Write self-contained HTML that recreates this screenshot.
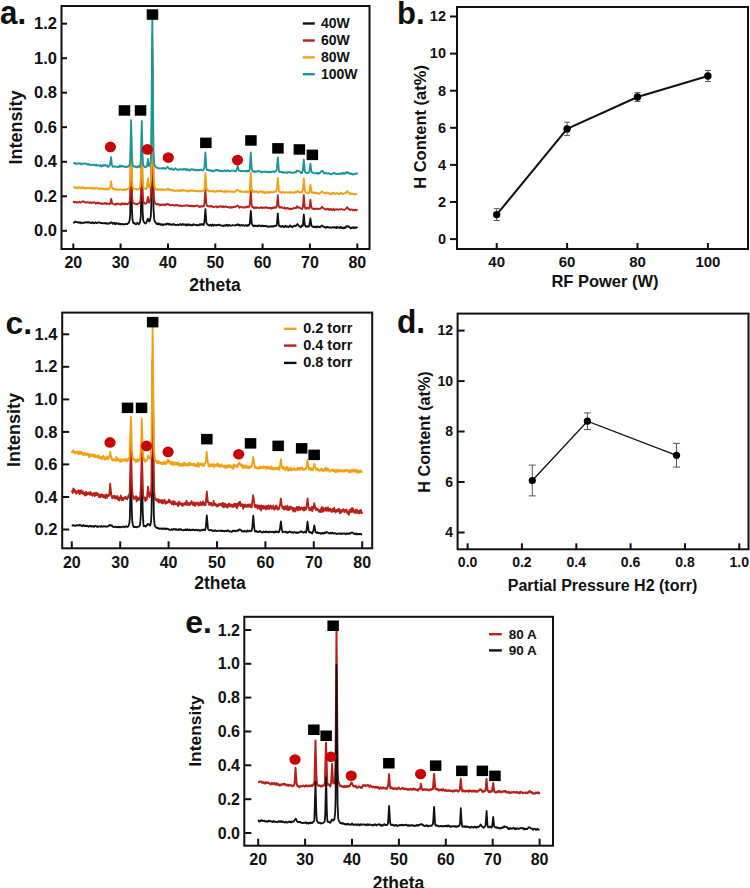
<!DOCTYPE html><html><head><meta charset="utf-8"><style>html,body{margin:0;padding:0;background:#fff;}svg{display:block;}text{font-family:"Liberation Sans",sans-serif;font-weight:bold;}</style></head><body>
<svg width="750" height="888" viewBox="0 0 750 888">
<rect width="750" height="888" fill="#fff"/>
<path d="M73.3,222.0 74.2,222.7 75.3,221.5 76.4,222.2 77.7,222.2 77.9,222.6 78.6,222.2 79.4,222.8 80.1,222.2 81.2,223.3 81.9,222.6 83.4,223.0 83.8,222.5 84.4,222.3 84.8,222.8 85.6,222.2 87.7,222.7 88.0,222.0 88.5,222.6 89.4,222.1 90.8,223.2 92.3,222.2 93.4,223.4 93.8,222.8 94.1,223.1 94.3,222.8 94.9,223.0 95.5,222.2 96.6,223.2 98.2,222.5 98.4,222.1 98.6,222.5 99.2,222.3 100.4,223.1 101.5,222.8 103.6,223.4 104.6,222.9 105.0,223.5 105.9,223.4 106.1,222.9 107.2,223.9 107.3,223.5 108.1,223.3 108.4,223.7 109.5,223.1 110.0,223.5 111.1,222.2 111.3,222.6 111.6,222.4 112.7,223.7 113.1,223.1 113.4,223.5 114.0,223.0 114.3,223.3 114.6,222.7 115.0,224.1 115.3,223.8 115.5,224.2 116.1,223.1 116.3,223.4 116.7,223.1 117.7,223.8 118.3,223.4 118.8,224.0 119.2,223.6 119.7,224.0 119.9,223.6 120.3,224.4 120.7,223.9 121.1,224.2 121.6,223.9 122.0,224.3 122.2,223.9 122.5,224.4 123.8,224.1 124.5,224.6 125.5,224.0 127.2,224.2 128.4,222.8 128.9,222.8 129.7,220.1 130.2,214.8 131.1,167.1 131.9,208.3 132.5,219.7 133.0,222.4 133.6,223.3 134.0,222.8 134.6,222.9 135.1,223.9 136.1,224.4 137.1,222.9 137.6,223.0 139.0,224.2 140.2,221.5 140.8,216.1 141.8,166.8 142.6,210.3 143.1,219.8 143.8,222.1 145.4,223.6 146.2,222.8 147.7,219.0 148.2,219.0 149.0,221.4 149.7,221.3 150.8,216.5 151.3,205.0 152.3,68.5 153.5,209.4 154.3,219.9 154.8,221.5 156.9,224.1 157.4,223.6 157.6,224.2 158.0,223.4 158.4,224.2 158.7,223.9 159.1,224.4 159.6,223.8 160.8,224.7 161.5,224.1 162.1,224.3 162.6,225.3 163.4,224.4 164.1,224.7 164.8,224.5 165.1,224.0 166.2,224.6 167.1,223.5 167.6,223.8 167.8,223.5 168.1,224.3 168.8,224.5 169.3,223.7 170.3,224.8 170.9,224.3 171.8,224.7 172.1,224.2 172.4,224.8 173.0,224.8 173.5,224.1 174.0,224.0 174.7,224.9 175.6,224.9 176.1,225.3 177.6,224.5 178.7,225.2 180.4,223.9 181.6,225.1 182.3,224.2 182.8,224.2 183.1,224.6 183.7,224.2 184.0,224.8 185.0,224.3 185.6,225.3 185.8,225.1 186.1,225.5 187.2,224.1 188.0,225.2 188.7,224.5 189.2,224.9 189.4,224.4 189.9,224.9 190.2,224.7 190.5,225.3 191.0,224.9 191.4,225.4 191.7,225.1 192.3,225.4 192.6,224.7 193.0,225.0 193.3,224.3 193.6,224.8 194.1,224.4 195.9,225.3 196.6,224.6 197.6,225.4 198.6,225.0 198.9,225.4 199.7,224.8 200.0,224.0 200.6,224.8 201.7,224.0 201.9,224.6 203.0,224.4 203.6,225.1 204.4,222.2 205.4,209.2 206.4,222.7 206.9,224.0 207.4,224.1 207.6,224.7 207.8,224.4 208.5,225.2 208.7,224.9 208.8,225.2 209.5,225.1 209.7,225.7 210.7,224.7 211.6,225.8 212.4,224.5 213.4,225.7 214.5,224.6 215.2,225.3 215.9,225.4 216.2,225.0 216.4,225.5 217.0,225.2 217.3,225.4 217.8,224.8 218.5,225.0 219.3,224.5 220.0,225.3 221.8,225.5 223.1,226.2 224.1,225.2 224.7,225.7 224.9,225.3 225.9,225.6 226.7,224.6 227.7,225.8 228.0,225.4 228.4,225.6 228.7,225.0 229.0,225.4 229.5,225.0 230.3,225.6 231.9,225.7 232.5,225.0 234.9,225.7 235.9,224.9 236.7,225.0 237.6,224.2 239.0,225.5 239.4,224.8 239.7,225.4 240.3,225.6 241.8,224.9 242.5,225.5 243.4,225.1 244.3,225.9 245.8,225.1 247.1,226.0 247.9,225.0 248.9,225.6 249.8,223.2 250.8,211.0 251.8,223.7 252.5,225.2 253.6,226.3 254.8,225.4 255.4,226.1 256.0,225.6 257.1,226.3 257.6,225.9 257.9,226.4 258.2,225.4 258.6,225.3 259.7,225.9 260.2,225.6 260.8,226.3 262.0,225.5 263.0,226.3 263.9,225.7 264.7,226.1 265.7,225.8 265.9,226.2 266.4,225.9 267.3,226.7 267.6,226.4 268.7,226.9 268.9,226.5 269.8,226.3 270.9,226.6 271.2,226.1 272.1,226.6 272.5,226.1 273.5,226.6 274.3,225.7 274.8,226.1 275.8,225.9 276.5,225.4 276.9,223.7 277.8,213.4 278.8,225.5 279.7,226.3 279.8,225.9 280.3,226.5 280.7,226.1 281.5,226.8 282.5,225.8 283.6,227.0 283.8,226.6 284.5,227.0 285.5,225.6 286.3,226.9 286.7,226.4 287.4,226.3 288.2,227.2 289.3,226.5 289.6,225.8 290.1,226.1 290.3,225.5 290.6,226.5 291.1,226.2 291.3,226.6 291.4,226.4 292.4,227.4 293.1,226.2 294.0,226.3 294.4,225.7 295.2,225.6 295.7,226.2 297.5,224.0 299.0,226.1 300.8,227.3 301.8,225.5 302.6,226.0 302.9,225.4 303.8,214.4 304.7,224.7 305.9,226.9 306.4,226.9 306.8,226.2 307.1,226.5 307.7,226.2 308.1,226.8 309.3,226.0 310.4,218.4 311.5,225.8 312.7,226.7 313.1,226.6 313.3,227.0 313.6,226.7 314.1,227.1 314.4,226.7 315.4,227.0 315.7,226.5 316.8,227.5 317.5,226.3 318.9,226.8 319.2,227.3 319.5,227.0 320.2,227.1 321.8,225.4 322.8,226.5 323.1,226.4 323.6,226.8 324.8,227.0 325.5,227.9 326.2,227.7 326.6,226.9 327.1,227.1 327.3,226.8 327.9,227.4 328.6,227.1 329.2,227.6 330.2,227.3 331.7,227.8 332.1,227.3 332.8,227.1 333.8,227.7 334.3,227.2 334.9,227.6 335.2,227.2 335.9,228.0 336.1,227.7 336.4,228.0 336.9,226.8 337.8,227.7 338.0,227.3 338.8,227.1 339.0,227.8 339.4,227.6 339.9,228.1 340.9,226.8 341.9,228.0 342.3,228.2 342.7,227.8 343.1,228.2 343.4,227.7 343.7,228.2 344.1,227.4 344.4,228.0 344.7,227.5 345.3,228.0 346.3,226.3 347.1,226.7 347.6,226.1 347.8,226.5 348.0,226.2 348.6,226.9 348.9,226.6 349.6,227.2 350.7,228.5 351.9,227.4 352.2,227.7 352.6,227.2 352.9,227.6 353.2,227.3 353.6,228.1 354.1,227.4 354.4,227.8 354.6,227.4 355.1,227.9 355.5,227.6 355.7,228.0 356.7,227.1 357.3,228.0" fill="none" stroke="#111111" stroke-width="1.8" stroke-linejoin="round"/>
<path d="M73.3,201.1 74.2,202.5 75.6,201.8 75.9,202.2 76.4,202.1 76.8,202.7 77.0,202.1 78.5,202.5 78.8,202.1 79.2,202.3 79.5,201.8 80.5,202.6 81.2,202.4 82.9,201.1 85.6,202.6 85.9,202.3 86.2,202.6 86.9,202.6 87.4,202.1 87.6,202.4 87.8,202.0 89.3,203.0 89.8,202.4 90.1,202.7 90.4,202.1 91.9,203.2 92.8,202.4 93.5,202.7 93.9,202.1 94.3,202.5 94.7,202.4 95.7,203.7 96.6,202.9 96.9,203.1 97.1,202.8 97.4,203.4 98.0,202.6 98.3,202.9 98.5,202.6 98.8,203.4 99.8,202.8 100.8,203.7 101.0,203.5 101.5,204.0 101.8,203.7 102.1,204.1 102.5,203.4 103.4,203.4 103.8,203.9 104.3,203.2 104.3,203.6 104.6,203.1 105.1,203.6 105.4,203.0 106.3,204.2 107.0,203.3 107.8,203.8 108.2,203.6 109.7,204.1 110.2,203.6 111.2,198.8 112.2,203.7 113.3,203.6 114.9,204.8 115.4,204.3 115.7,204.5 116.4,203.6 117.1,204.3 118.2,203.5 119.4,204.4 119.7,204.2 120.3,204.6 120.6,204.2 120.7,204.7 121.5,204.4 121.8,203.3 122.0,203.8 122.4,203.4 122.8,204.2 123.5,203.5 123.8,203.8 124.1,203.5 124.5,204.2 124.9,203.9 125.3,204.0 125.5,203.5 125.7,204.0 127.0,203.8 127.5,204.3 128.2,203.6 128.8,203.7 129.7,201.3 130.2,194.9 131.1,147.4 132.0,192.7 132.3,198.8 132.8,202.4 133.2,203.1 134.1,203.2 134.5,203.9 135.5,203.6 137.1,204.5 137.8,203.7 138.8,203.4 139.2,203.0 139.6,203.1 140.4,201.2 141.0,191.5 141.7,148.3 142.6,190.8 143.2,200.9 144.2,203.3 144.8,203.1 145.6,203.8 146.8,203.1 147.9,196.9 148.7,202.1 149.2,202.6 149.6,202.1 150.7,197.8 151.3,185.0 152.3,49.6 153.4,186.2 154.1,200.1 155.0,203.0 155.8,204.0 156.6,204.2 156.8,204.7 157.1,204.1 157.5,204.4 157.8,204.0 158.2,204.5 158.4,204.0 159.7,205.2 160.5,204.5 160.9,204.4 161.4,205.2 161.8,204.6 162.9,204.9 163.4,204.3 164.9,205.4 165.1,204.7 166.0,204.1 166.6,204.7 167.7,203.6 168.5,204.7 169.0,204.5 169.3,204.9 169.8,204.5 169.9,205.1 170.2,204.9 170.8,205.5 172.5,204.9 173.5,205.3 173.6,205.1 174.7,205.8 176.1,204.6 176.7,205.5 177.7,205.0 179.1,206.0 179.2,205.6 179.5,205.9 180.2,205.5 180.3,205.9 180.5,205.4 182.2,206.4 183.1,205.6 183.9,205.9 184.7,205.5 185.6,205.9 186.5,205.1 188.2,206.0 188.7,205.3 189.4,205.5 189.7,206.2 190.8,205.5 191.3,206.3 192.3,205.6 193.3,206.6 193.8,206.0 194.2,206.3 194.6,205.9 195.7,206.1 197.0,205.3 199.0,206.8 199.6,206.5 200.1,207.0 201.4,206.1 201.6,206.4 202.2,206.1 202.4,206.5 202.6,206.1 203.2,206.6 203.9,206.1 204.3,204.7 205.4,189.1 206.2,202.8 206.9,205.4 207.7,206.2 208.5,206.0 209.2,206.6 210.0,205.9 210.8,206.7 211.8,205.8 212.4,206.9 213.5,206.8 213.8,207.3 216.0,206.2 217.1,207.5 218.5,206.5 219.3,206.9 219.7,206.4 220.5,206.6 221.0,206.2 222.0,207.1 222.6,206.1 223.1,206.2 223.2,206.8 223.6,206.6 224.0,207.2 225.5,206.2 226.6,207.0 227.9,206.8 228.5,207.4 228.8,207.2 229.5,207.9 230.1,207.1 230.3,207.3 230.6,207.0 231.2,207.7 231.4,207.2 232.1,207.6 232.9,206.8 233.9,207.3 234.6,206.4 235.3,206.9 237.4,205.4 237.7,205.9 238.4,206.0 239.4,207.8 241.4,206.6 242.8,207.7 243.7,207.2 244.4,207.5 244.6,207.1 245.4,207.1 245.6,207.6 246.9,206.4 247.4,206.4 247.7,207.1 248.5,206.9 248.7,206.3 249.4,206.7 249.9,203.7 250.8,190.7 251.7,205.0 252.3,207.0 253.3,206.9 254.1,208.3 255.1,207.3 256.2,208.2 257.1,207.2 257.4,207.7 259.1,208.1 260.2,207.4 260.4,207.8 260.7,207.4 261.1,207.7 261.5,207.2 262.4,208.0 263.1,207.5 264.6,207.8 265.0,207.5 265.3,207.8 265.9,207.1 267.0,207.9 267.4,207.4 268.5,208.3 268.8,207.7 269.5,207.9 269.8,208.3 270.4,207.8 271.2,208.1 271.4,208.8 272.5,207.6 272.7,208.0 273.0,207.7 273.5,208.1 274.3,207.1 274.7,207.9 275.8,207.1 276.3,207.6 277.0,204.6 277.8,195.2 278.6,205.3 279.3,207.5 279.9,207.8 280.8,207.0 281.2,207.4 282.1,207.4 282.7,208.0 284.1,208.2 284.5,207.4 285.4,208.8 286.3,208.1 286.8,208.6 286.9,208.0 287.6,208.1 287.8,207.8 288.0,208.3 289.2,209.1 290.1,208.4 290.8,209.1 291.4,208.7 292.1,209.1 293.5,207.8 294.5,208.3 295.1,208.0 296.1,208.0 297.0,206.1 297.7,207.3 298.4,207.6 299.1,207.2 300.2,208.3 301.1,208.8 301.4,208.3 301.9,209.0 302.6,208.4 302.9,207.1 303.8,194.9 304.8,207.1 305.3,208.5 305.9,208.9 306.9,207.6 307.6,207.7 308.1,208.7 308.5,208.8 309.4,207.8 310.4,199.6 311.4,207.5 312.1,208.5 313.1,208.5 314.0,209.3 315.1,208.6 315.3,209.1 315.5,208.7 316.7,208.9 317.0,208.5 317.9,209.1 318.8,208.6 320.3,208.9 322.1,206.8 322.9,207.9 323.7,208.4 324.1,208.3 325.2,209.6 326.1,209.1 327.6,209.3 327.7,208.7 328.1,208.6 329.0,209.9 329.5,209.3 329.7,209.8 330.1,209.2 330.4,209.5 331.0,208.9 332.0,210.1 332.9,209.8 333.5,208.7 334.5,210.3 334.9,209.7 336.4,209.2 337.0,209.8 337.9,209.4 338.4,209.8 339.2,209.2 340.4,209.5 341.5,209.0 342.8,209.7 343.8,209.6 344.1,210.0 345.5,209.2 347.3,207.1 348.4,209.2 349.4,209.2 350.2,210.1 350.8,209.4 350.9,209.7 352.0,209.5 352.6,210.3 353.5,209.6 354.3,210.3 354.8,210.1 355.3,209.4 356.1,210.4 357.1,210.0 357.3,210.4" fill="none" stroke="#b8201a" stroke-width="1.8" stroke-linejoin="round"/>
<path d="M73.3,187.0 74.1,186.8 75.0,188.1 75.5,187.7 76.3,188.1 77.1,187.3 77.8,188.2 78.7,187.6 78.8,187.9 79.1,187.4 79.2,187.8 79.8,187.2 80.8,188.1 81.3,187.9 81.4,188.2 81.9,187.1 83.0,188.2 83.9,187.4 85.0,188.7 86.1,187.8 86.3,188.1 87.2,188.1 87.4,187.8 90.0,188.2 90.4,187.7 91.5,188.8 91.7,188.3 92.0,188.6 92.3,188.0 93.0,187.8 94.0,188.7 94.6,188.1 95.1,188.5 95.5,188.3 95.6,188.7 96.6,188.0 98.0,188.5 98.2,188.3 99.4,189.3 100.5,188.3 101.6,189.1 102.5,188.3 104.0,189.5 105.2,188.6 106.2,189.6 107.3,188.6 107.6,189.2 107.8,188.9 108.4,189.5 109.1,188.4 109.7,188.6 110.1,188.2 111.1,181.3 111.9,187.3 113.0,189.0 113.5,189.2 114.1,188.6 114.8,188.8 115.0,189.6 115.2,189.3 116.1,189.5 116.3,190.0 117.0,189.3 117.5,189.7 118.5,189.3 119.4,189.9 120.4,189.2 120.9,189.7 122.1,189.6 122.9,190.4 123.8,189.3 124.2,189.8 124.5,189.5 125.1,189.8 126.2,189.2 126.9,189.6 127.4,188.9 128.0,188.9 129.2,188.0 129.9,185.0 130.2,180.2 131.1,132.4 132.1,180.6 132.5,186.0 133.1,188.3 133.7,188.9 134.4,188.4 135.1,189.0 135.8,188.6 136.7,189.5 137.0,189.3 138.0,189.6 139.6,188.1 140.4,185.7 141.0,175.6 141.8,132.9 142.6,175.3 143.2,186.2 144.0,188.5 145.3,188.9 145.7,188.2 146.1,189.0 146.8,188.5 147.8,178.5 148.8,186.7 149.2,187.3 150.1,186.5 150.9,180.8 151.4,164.7 152.3,34.4 153.5,174.1 154.3,185.9 155.1,188.3 156.1,189.6 156.5,189.4 156.9,189.7 157.3,189.1 158.3,190.1 158.6,189.7 159.5,189.4 159.6,189.7 160.4,189.1 161.2,190.0 161.9,189.8 162.5,189.0 163.9,189.9 164.5,189.9 164.9,189.3 166.4,189.8 166.5,189.4 167.0,189.6 168.1,188.4 169.2,190.3 169.9,189.5 170.1,189.9 170.2,189.6 170.9,190.1 171.2,189.9 171.4,190.4 172.7,189.9 173.4,190.9 173.5,190.5 173.7,190.9 174.8,190.4 175.7,191.0 177.2,190.3 177.7,190.8 178.8,190.4 179.3,191.1 179.8,190.2 180.3,190.1 180.9,190.8 181.4,190.3 182.4,190.9 182.8,190.1 183.4,189.9 184.0,190.5 185.0,190.3 186.6,191.3 187.0,190.8 187.2,191.3 187.5,190.8 187.8,191.2 188.2,190.6 188.3,191.1 189.2,191.5 189.8,190.5 191.2,190.9 191.4,190.4 192.2,190.2 193.3,191.1 194.4,190.7 195.4,191.2 196.2,190.6 196.8,191.5 197.3,190.9 197.9,190.9 198.3,191.3 198.4,190.8 199.6,191.3 200.0,191.0 200.5,191.4 201.4,190.9 201.9,191.3 202.6,190.8 203.6,190.8 204.1,190.3 204.5,188.0 205.4,173.0 206.6,189.5 207.3,190.2 207.6,189.7 207.9,189.8 208.8,191.5 210.9,190.9 212.2,191.5 212.4,191.0 213.0,191.3 213.2,191.0 213.4,191.5 214.2,191.3 215.6,191.8 216.0,191.3 216.3,191.6 217.4,190.6 218.6,191.6 219.2,191.4 219.5,190.6 219.8,191.1 220.5,191.2 221.0,190.6 222.0,191.6 222.4,191.3 223.2,191.9 224.2,191.6 224.7,192.2 225.3,190.9 225.8,190.7 226.6,191.9 228.1,191.0 229.0,191.8 230.1,191.5 230.3,191.8 230.8,191.2 231.9,191.9 232.5,191.5 233.8,192.3 234.8,191.9 235.8,190.7 237.9,189.9 239.4,191.5 239.8,191.2 240.1,191.8 241.1,191.1 241.8,191.8 242.5,191.6 243.4,192.2 244.1,192.0 244.4,191.4 244.5,191.8 245.1,191.5 245.4,192.0 245.8,191.6 246.1,192.1 247.1,191.3 248.2,192.5 249.5,191.2 249.7,189.9 250.8,173.0 251.6,187.9 252.9,192.3 253.8,191.1 255.9,192.1 256.4,191.3 256.7,191.7 257.1,191.5 258.1,192.7 259.5,191.5 260.2,191.8 260.8,191.1 261.9,192.0 262.2,191.4 262.5,192.4 263.0,192.7 263.9,191.7 264.4,192.8 265.2,193.3 266.4,191.9 266.9,192.2 267.3,191.9 267.7,192.7 267.9,192.1 268.3,192.5 268.8,192.0 269.5,192.7 269.7,192.2 270.4,192.3 270.5,192.0 270.8,192.3 271.8,191.9 272.8,192.6 273.6,191.5 274.5,191.9 275.0,191.3 276.0,191.8 276.9,189.1 277.8,178.0 279.0,191.2 279.5,192.1 280.2,191.8 281.6,193.0 282.1,192.3 283.4,191.8 284.5,192.8 285.2,192.7 286.1,191.9 287.2,192.6 288.1,192.7 288.6,192.3 288.9,192.6 289.1,192.1 289.4,192.7 290.3,192.9 291.0,192.0 291.4,192.4 291.9,192.1 292.1,192.5 292.6,192.3 293.8,192.8 294.4,192.1 295.3,192.4 296.0,191.4 296.7,192.1 297.7,190.9 299.4,192.7 300.1,192.1 301.1,192.4 301.6,191.8 302.1,192.3 302.9,189.6 303.8,178.5 305.0,191.4 306.4,192.9 307.4,192.5 307.8,193.1 308.4,192.8 308.9,193.2 309.3,192.4 310.4,184.6 311.5,192.4 312.0,192.7 312.6,192.1 313.9,193.4 315.0,192.3 315.7,193.4 316.5,192.8 317.0,193.4 317.9,192.9 318.8,194.0 319.7,193.1 320.0,193.3 320.5,193.0 321.9,191.1 324.0,193.1 325.1,193.1 325.8,193.6 326.8,192.3 327.3,192.9 328.5,193.2 329.0,193.9 330.0,193.1 331.2,194.5 332.4,193.0 332.6,193.3 332.7,193.0 333.6,192.8 334.6,194.0 335.6,193.6 335.8,193.9 336.4,193.2 337.4,193.5 337.7,193.1 339.0,194.4 339.4,193.9 339.9,193.9 340.9,192.5 341.3,193.3 342.8,194.2 343.5,193.6 344.9,193.4 345.4,192.7 345.7,193.0 346.3,192.6 347.3,191.0 349.3,193.7 350.0,193.8 350.4,193.0 351.4,194.1 351.5,193.9 351.8,194.2 352.0,193.7 353.4,193.9 353.5,193.6 354.2,194.5 355.2,193.8 355.9,194.1 357.3,193.7" fill="none" stroke="#f2a012" stroke-width="1.8" stroke-linejoin="round"/>
<path d="M73.3,162.8 74.0,163.1 74.3,162.9 74.4,163.2 74.9,163.0 75.4,163.9 76.4,163.3 76.9,163.8 77.9,163.2 78.7,163.8 80.0,163.1 80.3,163.7 80.7,163.5 81.1,164.4 81.3,163.9 81.6,164.2 82.6,163.6 83.1,163.9 83.7,163.3 84.5,163.3 84.6,163.7 86.1,163.6 86.6,164.2 86.8,163.9 87.0,164.2 87.4,164.1 87.8,164.7 88.8,163.9 89.4,164.8 90.1,165.0 90.4,164.6 91.5,165.1 93.6,164.6 94.5,165.1 94.7,164.6 95.9,165.6 96.6,164.8 97.6,165.5 98.3,165.3 99.1,165.7 100.2,165.0 100.9,166.4 101.2,166.1 101.6,166.5 102.6,165.1 103.0,165.5 103.4,165.3 103.7,166.0 105.0,164.8 105.4,165.5 105.7,165.0 106.6,165.9 107.1,165.4 108.0,167.0 109.3,166.0 110.0,164.5 111.1,157.1 111.9,165.0 112.6,166.6 113.2,166.3 113.7,166.8 114.7,166.3 115.0,166.8 115.4,166.5 117.3,167.1 118.3,166.4 118.5,167.0 119.2,166.9 119.7,165.5 120.1,165.5 120.9,166.7 121.4,166.0 121.6,166.3 122.0,165.9 122.2,166.3 122.7,166.0 123.1,166.6 123.7,166.2 124.7,167.1 125.1,166.7 126.2,167.1 126.8,166.4 127.7,166.9 128.1,166.3 128.5,166.5 129.7,164.6 130.2,159.8 131.1,120.2 132.0,157.5 132.7,165.1 133.6,166.6 134.5,166.1 135.6,167.0 135.7,166.6 136.3,167.3 136.6,166.9 137.2,167.4 138.4,165.9 139.5,167.0 140.4,165.4 141.0,156.6 141.8,121.0 142.6,156.1 143.1,163.7 143.5,165.7 144.6,166.9 145.0,166.7 145.1,167.3 145.8,167.4 146.2,166.7 146.9,166.5 147.9,158.9 148.6,164.9 148.9,165.9 149.2,165.6 149.4,165.9 150.7,161.4 151.3,148.7 152.3,13.2 153.5,152.7 154.3,164.3 154.8,165.6 156.4,167.6 157.5,167.7 158.1,168.5 159.0,168.1 159.4,168.7 161.6,168.2 162.4,168.6 162.8,168.2 163.0,168.5 163.4,167.9 164.1,168.0 165.5,169.0 167.5,166.8 169.4,169.0 170.5,169.4 171.0,168.5 171.2,168.8 171.6,168.4 172.3,169.6 173.3,169.4 173.8,170.0 175.2,168.3 177.3,169.9 178.8,169.2 179.5,169.9 180.7,169.1 182.3,169.8 182.8,169.1 183.2,169.6 183.3,169.1 183.9,169.4 184.2,168.6 185.8,170.0 186.4,169.0 187.1,169.1 187.5,170.3 187.8,169.8 188.1,170.2 188.7,169.5 188.8,169.9 189.4,169.9 190.0,170.5 190.7,169.3 191.2,169.1 191.9,169.6 192.2,169.3 192.7,169.7 193.0,169.4 194.2,170.0 194.4,169.7 194.7,170.1 195.2,169.8 195.4,170.3 196.4,169.7 196.6,170.2 196.9,169.9 197.5,170.4 198.1,170.0 198.4,170.1 198.8,169.6 199.9,170.1 200.8,169.4 201.1,170.1 202.3,170.4 202.5,170.1 202.8,170.5 203.7,169.7 204.4,167.3 205.4,152.4 206.3,167.1 206.6,169.1 207.1,170.2 208.3,169.9 208.5,170.2 208.8,169.8 209.3,170.7 210.3,170.3 210.7,170.9 211.5,170.3 212.3,171.4 213.1,170.6 213.6,171.0 214.8,170.2 215.1,170.8 216.0,169.7 217.1,170.6 217.4,169.9 218.1,170.0 219.0,171.0 219.4,170.5 219.7,170.9 220.0,170.4 220.3,170.8 220.8,170.6 221.0,171.1 221.3,170.9 221.8,171.3 222.0,170.8 223.6,171.3 224.5,170.2 224.9,170.6 225.0,170.3 225.6,171.2 225.9,170.8 226.6,171.0 227.6,170.1 228.4,171.2 229.4,170.7 230.2,171.3 231.8,170.5 232.8,170.8 233.7,170.3 234.7,171.3 235.2,171.0 235.4,171.5 236.2,170.9 236.8,169.7 237.6,166.0 239.0,170.7 239.8,170.6 240.8,171.3 241.9,170.8 242.3,171.2 243.0,170.9 244.5,171.4 245.6,170.9 245.9,171.2 246.4,170.5 247.4,171.6 248.2,170.6 248.7,171.1 249.3,171.0 249.7,169.5 250.8,152.3 251.7,168.2 252.2,170.6 253.1,171.8 253.7,171.1 254.6,172.1 255.0,171.3 255.9,171.9 256.6,171.8 257.2,171.5 257.6,170.8 259.6,171.8 259.8,171.3 260.0,171.7 260.7,171.2 261.8,172.6 262.8,171.6 263.7,171.9 265.6,171.5 266.6,172.3 267.3,171.9 267.5,172.2 268.4,172.1 268.8,171.5 269.8,172.4 270.9,171.7 271.1,172.2 272.2,171.6 273.5,171.4 273.6,171.9 274.2,172.1 275.1,171.1 275.8,171.4 276.3,170.9 276.9,168.4 277.8,157.4 279.0,171.5 279.6,172.0 279.8,171.6 281.6,172.0 282.1,172.8 283.1,171.9 284.1,172.8 285.1,172.2 286.5,172.9 287.1,172.5 287.2,172.8 287.5,172.2 288.3,171.9 289.0,172.5 289.9,172.2 290.1,172.6 290.7,172.1 291.8,172.9 293.3,172.5 293.9,172.9 294.9,172.0 295.9,172.6 296.9,170.5 298.2,171.2 298.4,170.8 300.2,172.0 300.9,173.0 301.4,172.5 302.0,172.9 302.9,169.8 303.8,159.3 304.8,171.4 305.7,172.6 307.4,173.2 308.4,172.6 308.7,172.8 309.4,171.8 310.4,163.6 311.4,171.3 311.8,172.5 312.7,172.8 313.0,172.4 313.1,172.8 314.7,173.4 316.5,172.9 317.4,173.8 318.0,172.7 319.0,173.6 319.6,172.8 320.2,172.8 321.3,171.2 321.5,171.4 322.0,171.0 322.4,171.4 322.9,171.2 324.1,173.5 324.4,172.9 325.4,172.8 326.7,173.6 327.0,173.3 327.5,173.6 328.9,173.2 330.3,174.2 330.9,173.9 331.2,174.2 331.5,173.8 332.1,174.1 333.1,173.2 334.2,173.0 335.1,173.6 335.4,173.4 335.8,174.0 336.2,173.8 336.5,174.1 336.9,173.7 338.2,174.3 339.2,173.6 339.6,174.0 340.3,173.5 340.5,173.8 340.7,173.4 341.0,173.8 341.2,173.4 341.8,173.8 341.9,173.4 342.4,173.7 343.1,172.7 344.1,173.8 344.5,173.4 345.0,173.6 345.6,172.5 346.4,173.2 347.1,172.0 347.5,172.1 348.1,173.1 348.8,172.8 349.0,173.7 349.7,173.8 350.2,173.2 351.2,174.2 351.6,173.6 352.1,173.6 352.6,174.5 353.6,174.0 354.9,174.3 355.6,173.5 356.1,173.7 356.5,173.3 356.8,173.7 357.2,173.4 357.3,173.7" fill="none" stroke="#1b959c" stroke-width="1.8" stroke-linejoin="round"/>
<rect x="61.5" y="6" width="308.0" height="243" fill="none" stroke="#111" stroke-width="2"/>
<line x1="61.5" y1="230.8" x2="67.0" y2="230.8" stroke="#111" stroke-width="2"/>
<text x="57.0" y="236.4" text-anchor="end" font-size="16.5" fill="#111">0.0</text>
<line x1="61.5" y1="196.3" x2="67.0" y2="196.3" stroke="#111" stroke-width="2"/>
<text x="57.0" y="201.9" text-anchor="end" font-size="16.5" fill="#111">0.2</text>
<line x1="61.5" y1="161.8" x2="67.0" y2="161.8" stroke="#111" stroke-width="2"/>
<text x="57.0" y="167.4" text-anchor="end" font-size="16.5" fill="#111">0.4</text>
<line x1="61.5" y1="127.2" x2="67.0" y2="127.2" stroke="#111" stroke-width="2"/>
<text x="57.0" y="132.8" text-anchor="end" font-size="16.5" fill="#111">0.6</text>
<line x1="61.5" y1="92.7" x2="67.0" y2="92.7" stroke="#111" stroke-width="2"/>
<text x="57.0" y="98.3" text-anchor="end" font-size="16.5" fill="#111">0.8</text>
<line x1="61.5" y1="58.2" x2="67.0" y2="58.2" stroke="#111" stroke-width="2"/>
<text x="57.0" y="63.8" text-anchor="end" font-size="16.5" fill="#111">1.0</text>
<line x1="61.5" y1="23.7" x2="67.0" y2="23.7" stroke="#111" stroke-width="2"/>
<text x="57.0" y="29.3" text-anchor="end" font-size="16.5" fill="#111">1.2</text>
<line x1="73.3" y1="249.0" x2="73.3" y2="243.5" stroke="#111" stroke-width="2"/>
<text x="73.3" y="267.7" text-anchor="middle" font-size="16" fill="#111">20</text>
<line x1="120.6" y1="249.0" x2="120.6" y2="243.5" stroke="#111" stroke-width="2"/>
<text x="120.6" y="267.7" text-anchor="middle" font-size="16" fill="#111">30</text>
<line x1="168.0" y1="249.0" x2="168.0" y2="243.5" stroke="#111" stroke-width="2"/>
<text x="168.0" y="267.7" text-anchor="middle" font-size="16" fill="#111">40</text>
<line x1="215.3" y1="249.0" x2="215.3" y2="243.5" stroke="#111" stroke-width="2"/>
<text x="215.3" y="267.7" text-anchor="middle" font-size="16" fill="#111">50</text>
<line x1="262.6" y1="249.0" x2="262.6" y2="243.5" stroke="#111" stroke-width="2"/>
<text x="262.6" y="267.7" text-anchor="middle" font-size="16" fill="#111">60</text>
<line x1="309.9" y1="249.0" x2="309.9" y2="243.5" stroke="#111" stroke-width="2"/>
<text x="309.9" y="267.7" text-anchor="middle" font-size="16" fill="#111">70</text>
<line x1="357.3" y1="249.0" x2="357.3" y2="243.5" stroke="#111" stroke-width="2"/>
<text x="357.3" y="267.7" text-anchor="middle" font-size="16" fill="#111">80</text>
<text transform="translate(21.5,127.5) rotate(-90) scale(1.0,1)" text-anchor="middle" font-size="18" fill="#111">Intensity</text>
<text x="215.0" y="291.0" text-anchor="middle" font-size="17.5" fill="#111">2theta</text>
<text transform="translate(0.0,24.0) scale(0.95,1)" text-anchor="start" font-size="33" fill="#111">a.</text>
<line x1="302.8" y1="23.5" x2="314.8" y2="23.5" stroke="#111111" stroke-width="2.4"/>
<text x="321.0" y="28.3" text-anchor="start" font-size="14" fill="#111">40W</text>
<line x1="302.8" y1="40.5" x2="314.8" y2="40.5" stroke="#b8201a" stroke-width="2.4"/>
<text x="321.0" y="45.3" text-anchor="start" font-size="14" fill="#111">60W</text>
<line x1="302.8" y1="57.4" x2="314.8" y2="57.4" stroke="#f2a012" stroke-width="2.4"/>
<text x="321.0" y="62.2" text-anchor="start" font-size="14" fill="#111">80W</text>
<line x1="302.8" y1="74.2" x2="314.8" y2="74.2" stroke="#1b959c" stroke-width="2.4"/>
<text x="321.0" y="79.0" text-anchor="start" font-size="14" fill="#111">100W</text>
<rect x="118.7" y="105.2" width="11.5" height="10.5" fill="#000"/>
<rect x="134.8" y="105.2" width="11.5" height="10.5" fill="#000"/>
<rect x="146.7" y="9.3" width="11.5" height="10.5" fill="#000"/>
<rect x="200.1" y="137.6" width="11.5" height="10.5" fill="#000"/>
<rect x="245.2" y="135.2" width="11.5" height="10.5" fill="#000"/>
<rect x="272.2" y="143.1" width="11.5" height="10.5" fill="#000"/>
<rect x="293.6" y="144.2" width="11.5" height="10.5" fill="#000"/>
<rect x="306.6" y="149.6" width="11.5" height="10.5" fill="#000"/>
<ellipse cx="110.4" cy="146.9" rx="5.6" ry="5.3" fill="#c80404"/>
<ellipse cx="147.4" cy="149.4" rx="5.6" ry="5.3" fill="#c80404"/>
<ellipse cx="168.3" cy="157.6" rx="5.6" ry="5.3" fill="#c80404"/>
<ellipse cx="237.5" cy="160.1" rx="5.6" ry="5.3" fill="#c80404"/>
<rect x="457" y="7" width="291" height="242" fill="none" stroke="#111" stroke-width="2"/>
<line x1="450.0" y1="239.1" x2="457.0" y2="239.1" stroke="#111" stroke-width="2"/>
<text x="446.0" y="243.9" text-anchor="end" font-size="14.5" fill="#111">0</text>
<line x1="450.0" y1="202.0" x2="457.0" y2="202.0" stroke="#111" stroke-width="2"/>
<text x="446.0" y="206.8" text-anchor="end" font-size="14.5" fill="#111">2</text>
<line x1="450.0" y1="164.9" x2="457.0" y2="164.9" stroke="#111" stroke-width="2"/>
<text x="446.0" y="169.7" text-anchor="end" font-size="14.5" fill="#111">4</text>
<line x1="450.0" y1="127.8" x2="457.0" y2="127.8" stroke="#111" stroke-width="2"/>
<text x="446.0" y="132.6" text-anchor="end" font-size="14.5" fill="#111">6</text>
<line x1="450.0" y1="90.7" x2="457.0" y2="90.7" stroke="#111" stroke-width="2"/>
<text x="446.0" y="95.5" text-anchor="end" font-size="14.5" fill="#111">8</text>
<line x1="450.0" y1="53.6" x2="457.0" y2="53.6" stroke="#111" stroke-width="2"/>
<text x="446.0" y="58.4" text-anchor="end" font-size="14.5" fill="#111">10</text>
<line x1="450.0" y1="16.5" x2="457.0" y2="16.5" stroke="#111" stroke-width="2"/>
<text x="446.0" y="21.3" text-anchor="end" font-size="14.5" fill="#111">12</text>
<line x1="496.7" y1="249.0" x2="496.7" y2="243.0" stroke="#111" stroke-width="2"/>
<text x="496.7" y="266.5" text-anchor="middle" font-size="15" fill="#111">40</text>
<line x1="567.1" y1="249.0" x2="567.1" y2="243.0" stroke="#111" stroke-width="2"/>
<text x="567.1" y="266.5" text-anchor="middle" font-size="15" fill="#111">60</text>
<line x1="637.5" y1="249.0" x2="637.5" y2="243.0" stroke="#111" stroke-width="2"/>
<text x="637.5" y="266.5" text-anchor="middle" font-size="15" fill="#111">80</text>
<line x1="707.9" y1="249.0" x2="707.9" y2="243.0" stroke="#111" stroke-width="2"/>
<text x="707.9" y="266.5" text-anchor="middle" font-size="15" fill="#111">100</text>
<text transform="translate(426.0,127.0) rotate(-90) scale(1.0,1)" text-anchor="middle" font-size="16.5" fill="#111">H Content (at%)</text>
<text x="605.0" y="287.0" text-anchor="middle" font-size="16.5" fill="#111">RF Power (W)</text>
<text x="397.0" y="24.0" text-anchor="start" font-size="31" fill="#111">b.</text>
<polyline points="496.7,214.6 567.1,128.9 637.5,97.0 707.9,76.0" fill="none" stroke="#111" stroke-width="2"/>
<line x1="496.7" y1="208.7" x2="496.7" y2="220.5" stroke="#555" stroke-width="1"/>
<line x1="493.7" y1="208.7" x2="499.7" y2="208.7" stroke="#555" stroke-width="1"/>
<line x1="493.7" y1="220.5" x2="499.7" y2="220.5" stroke="#555" stroke-width="1"/>
<circle cx="496.7" cy="214.6" r="3.7" fill="#000"/>
<line x1="567.1" y1="122.2" x2="567.1" y2="135.6" stroke="#555" stroke-width="1"/>
<line x1="564.1" y1="122.2" x2="570.1" y2="122.2" stroke="#555" stroke-width="1"/>
<line x1="564.1" y1="135.6" x2="570.1" y2="135.6" stroke="#555" stroke-width="1"/>
<circle cx="567.1" cy="128.9" r="3.7" fill="#000"/>
<line x1="637.5" y1="92.6" x2="637.5" y2="101.5" stroke="#555" stroke-width="1"/>
<line x1="634.5" y1="92.6" x2="640.5" y2="92.6" stroke="#555" stroke-width="1"/>
<line x1="634.5" y1="101.5" x2="640.5" y2="101.5" stroke="#555" stroke-width="1"/>
<circle cx="637.5" cy="97.0" r="3.7" fill="#000"/>
<line x1="707.9" y1="70.5" x2="707.9" y2="81.6" stroke="#555" stroke-width="1"/>
<line x1="704.9" y1="70.5" x2="710.9" y2="70.5" stroke="#555" stroke-width="1"/>
<line x1="704.9" y1="81.6" x2="710.9" y2="81.6" stroke="#555" stroke-width="1"/>
<circle cx="707.9" cy="76.0" r="3.7" fill="#000"/>
<path d="M71.8,525.9 72.9,525.1 74.7,525.9 75.5,525.4 75.9,525.8 76.9,525.2 78.4,525.6 79.4,525.0 79.7,525.3 79.9,525.0 80.8,525.2 82.3,526.2 82.5,525.6 82.8,525.9 83.4,525.1 83.6,525.5 83.9,525.1 84.5,526.1 85.1,526.2 85.6,525.7 86.8,526.2 87.2,525.8 88.0,526.3 88.1,526.1 88.4,526.7 88.5,526.3 89.2,526.4 89.4,526.0 89.9,526.3 90.3,525.9 91.5,526.6 92.3,525.9 92.7,526.3 93.2,526.1 93.5,526.7 94.1,526.4 94.3,526.7 94.5,526.1 95.4,526.0 96.4,526.2 97.0,526.9 97.8,526.4 98.3,526.8 99.4,526.3 100.4,526.8 101.4,526.0 101.6,526.7 102.0,526.4 102.3,526.7 103.6,526.5 103.7,526.2 105.5,526.6 105.6,526.3 106.0,526.8 106.7,526.7 107.1,526.2 108.2,526.3 109.6,525.0 110.5,525.1 111.0,525.8 111.4,525.3 112.0,525.3 112.4,526.3 113.6,527.2 115.4,526.6 116.0,527.2 117.0,526.8 117.5,527.3 118.4,526.7 119.0,527.4 119.9,526.8 121.2,527.4 122.2,526.6 123.0,526.9 123.9,526.5 124.6,527.3 126.0,526.2 127.4,527.0 128.2,526.5 129.3,523.7 129.8,518.8 130.9,470.1 131.9,513.9 132.3,521.7 132.9,525.2 133.8,527.1 134.4,526.7 134.7,527.0 136.1,526.9 136.3,527.3 139.2,526.3 140.1,524.8 140.8,515.4 141.8,471.2 142.8,512.7 143.4,524.4 143.9,526.2 145.0,526.0 145.7,526.7 147.0,524.7 147.4,524.8 147.8,524.0 148.2,524.4 148.3,523.9 149.9,525.6 150.6,524.1 151.1,520.8 151.5,513.2 152.6,430.9 153.9,516.6 154.5,524.2 155.1,526.3 157.0,528.2 158.0,528.0 159.1,528.9 160.1,528.4 160.5,528.8 161.5,528.3 162.5,529.2 163.2,528.4 163.7,528.3 164.2,529.1 164.6,528.5 164.7,528.8 165.3,528.5 165.8,529.2 166.9,528.6 168.1,528.9 169.3,529.9 169.4,529.6 169.9,529.9 170.7,529.8 171.6,529.1 172.0,529.8 172.3,529.4 172.7,529.8 173.5,528.9 174.0,529.5 175.1,529.0 175.6,529.7 176.6,529.1 177.2,530.0 177.7,530.1 179.0,529.8 179.2,528.9 180.5,529.7 181.0,529.2 181.9,530.2 183.2,530.4 184.1,529.9 185.2,530.2 185.4,529.4 185.8,529.7 186.2,529.4 186.5,530.1 187.6,529.2 188.3,530.1 189.3,530.0 189.5,529.5 190.5,530.3 191.3,529.7 191.9,530.2 193.1,529.4 194.3,530.3 194.8,530.0 195.4,530.3 195.7,529.9 196.5,529.7 197.4,530.5 198.8,529.8 199.8,530.8 200.6,530.6 201.3,529.8 201.9,529.7 202.4,530.2 204.0,529.7 205.1,530.1 205.9,526.6 206.8,515.3 208.0,528.7 208.3,529.5 209.7,530.4 210.9,529.8 212.4,530.9 212.9,530.7 214.1,531.2 215.2,530.1 216.2,531.0 216.8,531.1 218.9,530.5 219.7,530.9 221.3,530.7 221.5,531.1 221.9,530.5 222.5,531.1 223.6,530.8 224.3,531.4 225.2,530.8 226.5,531.1 227.6,530.2 228.1,530.8 228.2,530.5 228.8,530.8 229.4,531.7 230.4,531.2 231.8,532.0 232.9,530.6 233.6,531.1 234.7,530.6 235.8,531.4 237.4,530.2 237.9,530.9 238.3,530.8 239.0,529.7 239.8,529.4 240.7,530.4 241.4,530.2 242.1,531.5 243.1,531.2 243.5,531.6 244.6,530.8 245.0,531.4 245.6,531.2 246.4,531.7 247.4,530.5 248.0,531.4 249.1,530.7 250.7,531.3 251.7,530.6 252.2,528.6 253.3,515.7 254.3,527.8 254.8,531.1 255.2,531.5 255.5,531.1 256.3,531.0 256.7,531.7 257.1,531.5 257.4,532.0 258.1,532.2 258.4,531.8 259.1,531.8 259.4,531.2 260.0,531.3 260.2,531.0 260.6,531.7 261.0,531.6 261.4,532.3 262.2,532.5 263.5,531.5 263.9,532.2 264.4,531.8 265.3,532.3 266.0,531.3 267.0,532.2 267.7,531.7 269.0,532.5 269.3,531.9 269.8,531.7 271.5,532.2 273.2,531.6 274.1,532.8 275.0,531.6 275.4,532.0 275.7,531.4 276.4,531.5 276.7,532.1 277.3,531.6 278.7,532.4 279.2,531.6 279.9,529.1 280.9,521.4 281.8,529.2 282.6,532.3 283.2,531.8 285.4,531.7 286.2,532.5 286.6,532.0 287.2,532.6 287.3,532.2 287.8,532.8 289.6,531.5 290.3,532.1 291.1,531.9 291.5,532.5 292.8,532.2 293.3,532.8 294.3,532.0 295.4,532.3 295.7,532.8 296.1,532.5 296.5,532.9 296.9,532.4 297.9,533.0 298.3,532.3 299.6,532.3 300.8,531.3 301.9,532.0 302.4,531.6 303.2,532.7 304.8,532.0 305.0,531.5 306.0,532.7 306.6,530.0 307.5,521.7 308.7,531.1 309.5,532.5 310.0,532.2 310.2,532.5 310.4,532.2 311.3,532.4 312.2,533.5 313.4,530.6 314.3,525.3 315.6,532.4 316.2,532.2 316.6,532.8 317.1,532.3 317.4,532.8 317.7,532.3 318.2,533.1 318.7,533.3 319.6,532.8 320.8,533.8 321.4,533.1 321.6,533.7 321.9,532.8 322.7,532.8 323.3,533.6 323.5,533.2 324.2,533.4 325.0,532.2 325.6,533.0 326.8,532.0 329.8,533.6 330.7,532.7 331.5,533.3 332.2,532.7 332.8,532.8 333.2,533.6 335.1,533.1 336.6,534.2 337.7,533.5 338.8,533.9 339.4,533.3 339.5,533.6 340.3,533.5 340.9,534.1 341.7,533.5 342.3,533.9 342.8,533.4 343.4,533.7 344.5,533.4 345.6,534.3 346.8,533.3 347.3,533.8 348.3,533.5 349.0,534.1 349.5,533.2 350.6,533.5 351.3,532.6 351.6,532.8 352.1,532.5 352.7,532.6 353.8,533.8 354.8,533.6 355.3,534.2 355.8,533.7 356.0,534.0 356.3,533.4 357.0,534.4 357.2,534.0 357.8,534.4 358.2,533.8 358.9,533.8 359.3,534.3 359.7,533.8 360.4,533.8 361.4,534.6 361.6,534.2 362.2,534.2" fill="none" stroke="#111111" stroke-width="1.8" stroke-linejoin="round"/>
<path d="M71.8,492.6 72.4,490.5 72.8,493.0 73.3,488.5 73.8,491.3 74.3,489.5 74.4,490.6 74.7,489.8 75.2,492.2 75.6,491.1 76.2,493.7 76.6,491.7 76.7,493.1 76.9,492.2 77.0,493.0 77.5,491.1 78.0,492.6 78.5,490.1 78.8,491.4 79.2,491.5 79.3,490.8 79.5,494.2 80.0,491.0 80.6,493.7 81.1,490.2 81.6,492.7 82.0,491.7 82.2,493.4 82.7,491.1 83.4,494.3 83.9,492.4 84.4,494.6 84.7,493.1 85.1,495.7 85.5,493.8 85.6,494.5 86.1,491.6 86.6,495.1 86.9,492.8 87.1,493.8 87.4,493.9 87.8,493.4 87.9,494.1 88.4,492.5 88.5,493.9 89.0,493.3 89.4,494.6 90.2,493.2 90.3,491.9 90.8,494.8 91.3,494.4 91.5,493.2 91.6,494.7 91.7,494.4 92.0,495.2 92.3,494.5 92.5,495.8 93.2,493.4 93.7,495.2 93.9,494.0 94.0,494.9 94.2,493.0 94.7,496.1 96.0,492.7 96.5,495.3 96.6,494.1 96.8,494.7 97.2,493.1 97.4,493.9 97.8,493.7 98.0,494.4 98.2,493.9 98.6,496.2 99.2,497.2 100.1,494.6 100.5,497.0 101.5,494.2 101.7,496.3 101.8,495.6 102.0,496.7 102.2,494.9 102.6,494.8 102.8,496.9 103.1,496.6 103.3,497.4 103.8,495.1 104.0,496.4 104.2,495.6 104.3,497.3 104.5,496.0 104.7,497.3 104.9,495.3 105.4,498.3 106.2,494.4 106.7,495.1 107.0,497.8 107.5,495.8 107.9,496.1 108.1,495.0 108.6,496.1 108.7,495.2 108.8,495.8 109.1,495.1 109.2,495.5 110.2,483.7 111.4,495.8 111.5,496.1 111.6,495.6 111.9,496.4 112.2,498.4 112.5,496.5 112.6,497.5 112.8,496.6 112.9,497.5 113.1,496.2 113.5,497.3 114.1,495.6 114.6,498.5 115.0,496.4 115.3,497.8 115.4,496.3 115.6,497.8 115.8,498.3 116.1,497.0 116.6,498.6 117.1,495.9 117.3,496.6 117.5,496.2 117.7,499.1 117.9,498.3 118.0,499.2 118.3,497.5 118.6,500.1 119.0,498.4 119.3,500.6 120.0,497.2 120.5,497.8 120.8,495.4 121.7,500.0 122.8,497.7 123.1,500.3 123.7,497.8 123.9,498.4 124.1,497.8 124.2,498.6 124.4,497.8 124.5,498.6 125.0,496.9 125.2,498.5 125.4,497.9 125.5,498.5 125.7,496.9 126.1,498.6 126.3,497.8 126.8,498.8 127.0,498.2 127.1,499.4 127.2,498.3 127.4,497.9 127.5,498.5 127.6,497.5 127.8,498.0 128.2,495.8 128.3,496.4 128.4,495.3 128.7,497.4 128.8,496.4 128.9,497.1 129.1,494.1 129.4,493.6 129.5,494.3 129.7,492.7 130.9,442.7 132.0,486.7 132.7,495.8 132.9,495.5 133.4,497.7 133.5,497.0 133.9,499.1 134.7,497.4 134.9,498.5 135.0,497.3 135.3,498.0 135.4,496.5 135.5,497.6 136.0,496.2 136.5,501.5 136.9,497.1 137.1,500.5 137.9,497.5 138.5,500.2 138.6,499.4 138.7,500.0 139.2,498.8 139.4,499.7 139.8,497.4 139.9,497.8 140.2,497.1 141.0,483.2 141.8,449.2 143.1,494.6 143.9,498.5 144.7,497.7 145.3,501.2 145.8,498.3 145.9,498.7 146.2,498.2 146.3,497.1 146.8,499.8 148.0,486.6 149.2,496.6 149.5,495.9 149.6,497.3 150.6,492.2 151.0,493.7 151.4,484.5 152.6,359.8 154.1,490.8 155.1,499.4 155.3,499.7 155.4,499.3 155.5,499.7 155.8,498.6 156.2,500.0 156.6,499.4 156.9,499.6 157.3,501.2 157.5,500.0 157.9,501.5 158.1,499.1 158.6,502.4 158.8,502.0 159.0,502.6 159.1,502.0 159.2,502.6 159.7,499.8 159.9,501.8 160.0,501.1 160.1,501.9 160.4,500.9 160.9,502.3 161.3,500.3 161.6,503.0 162.0,499.9 162.8,503.6 163.5,502.2 163.7,500.5 164.1,502.4 164.6,499.6 165.5,503.9 166.0,501.6 166.4,503.4 166.7,501.4 167.1,503.0 167.4,501.6 167.9,502.4 168.2,502.3 168.9,499.6 169.4,501.4 169.6,500.1 170.0,502.6 170.1,501.4 170.7,501.3 171.1,503.0 171.2,502.5 171.9,504.1 172.3,503.8 173.1,501.0 173.5,504.8 173.7,503.4 174.1,504.1 174.6,501.3 175.1,504.3 175.4,502.5 175.7,504.3 176.0,503.3 176.5,504.2 176.6,503.7 176.9,504.1 177.2,503.1 177.7,505.7 177.8,503.8 177.9,504.9 178.2,504.5 178.3,506.2 178.8,501.5 179.5,504.1 179.7,503.8 180.0,504.4 180.5,502.8 180.6,504.1 180.7,503.5 180.9,504.5 181.1,503.8 181.2,504.5 181.4,504.0 181.8,505.7 182.5,503.3 183.0,505.8 183.1,504.5 183.4,504.0 183.5,504.9 183.6,504.2 183.9,504.5 184.0,503.3 184.2,504.5 184.4,503.2 184.5,503.7 184.8,503.3 185.0,504.4 185.2,503.9 185.2,504.7 185.4,503.2 185.6,504.7 186.5,500.6 187.0,505.0 187.3,503.4 187.5,503.8 187.9,502.6 188.3,504.7 188.5,503.7 189.1,503.3 189.4,505.3 189.9,503.1 190.2,504.7 190.7,502.2 190.9,503.6 191.3,503.6 191.6,501.2 191.8,502.9 192.0,502.3 192.1,503.5 192.5,503.2 193.0,505.1 193.9,502.2 194.5,505.7 195.0,504.6 195.4,505.8 195.9,503.0 196.0,503.9 196.2,503.0 196.3,503.9 196.8,502.6 197.3,503.9 197.5,502.6 197.6,503.0 197.8,502.6 198.3,505.6 199.0,503.4 199.4,505.1 199.8,503.8 200.2,504.3 200.4,502.0 201.2,505.3 201.5,502.8 202.0,504.4 202.2,503.9 202.6,504.6 203.1,501.3 203.7,504.9 204.2,503.1 204.8,505.3 205.3,502.6 205.6,505.1 206.8,491.5 207.9,502.3 208.1,501.6 208.3,502.0 208.9,504.6 209.2,502.7 209.4,503.1 209.9,505.1 210.3,503.2 210.8,504.7 211.0,502.9 211.2,503.6 211.4,502.9 212.3,505.9 212.7,503.7 212.9,505.0 213.3,504.6 213.7,500.8 214.2,504.9 214.6,503.7 215.2,505.4 215.6,503.6 216.3,505.8 216.6,506.0 216.8,504.9 217.3,506.6 217.6,504.8 217.7,505.2 217.8,504.7 217.9,505.1 218.3,505.1 218.5,505.9 219.0,503.8 219.5,505.1 219.9,504.8 220.0,505.1 220.5,503.6 220.7,504.9 220.9,503.8 221.4,505.0 221.5,504.2 222.0,506.0 222.6,503.0 223.3,507.3 223.9,503.3 224.2,505.5 224.8,507.0 225.5,503.8 226.0,505.2 226.2,504.3 226.4,504.8 226.9,507.4 227.2,507.1 227.4,507.5 227.8,504.7 228.5,506.7 229.0,503.4 229.6,505.3 230.1,504.5 230.4,506.3 230.5,505.4 230.6,506.3 231.1,504.3 231.5,506.5 231.6,506.0 231.8,506.4 231.9,505.0 232.1,505.3 232.3,504.8 232.7,507.0 233.2,505.0 233.4,506.5 233.8,505.8 234.3,503.6 234.8,506.4 234.9,504.6 235.0,505.5 235.2,505.1 235.4,505.5 235.6,503.7 236.1,507.0 236.6,504.5 237.0,508.3 237.8,503.5 238.3,506.0 238.5,503.7 238.6,504.3 239.2,502.1 239.4,503.7 239.6,503.0 239.7,504.0 240.1,502.0 240.5,506.0 241.0,503.8 241.5,505.5 242.2,504.3 242.3,505.6 242.7,506.6 242.7,505.8 243.0,506.5 243.2,509.0 243.8,504.7 244.0,505.3 244.1,504.7 244.3,506.8 244.4,506.3 244.6,506.8 245.1,504.3 245.8,507.0 246.3,505.3 246.9,506.6 247.2,506.4 247.4,504.8 247.9,506.8 248.2,504.7 248.3,505.0 248.5,504.7 248.7,506.5 249.1,504.3 249.7,505.8 249.8,505.2 250.0,506.4 250.5,504.9 250.9,507.4 251.2,504.1 251.7,507.3 253.1,495.2 254.0,499.7 254.5,506.1 254.9,505.1 255.2,507.3 255.3,506.1 255.5,506.9 255.7,505.0 255.9,505.6 256.0,505.1 256.5,507.2 256.6,506.1 256.7,507.0 257.2,505.2 257.7,508.9 258.2,506.0 258.7,506.7 259.0,505.4 259.9,509.0 260.4,505.6 261.0,510.6 261.5,505.5 262.1,506.5 262.5,508.6 262.9,505.8 263.4,507.0 263.5,505.8 263.9,508.7 264.2,506.5 264.9,508.2 265.5,506.1 266.0,509.7 266.3,506.4 266.7,508.4 266.9,506.2 266.9,506.5 267.1,506.1 267.3,508.9 268.4,505.3 269.2,509.2 269.7,506.3 269.9,507.9 270.4,505.4 270.9,508.2 271.2,506.1 271.8,508.9 272.1,506.7 272.5,506.8 272.8,507.8 273.3,505.4 273.9,509.7 274.2,507.3 274.7,509.6 275.9,505.6 276.0,506.6 276.5,505.5 276.8,508.8 277.2,507.8 277.3,508.2 277.4,507.0 277.7,508.7 277.8,507.6 277.9,509.6 278.5,507.8 278.6,508.8 278.9,507.8 279.0,509.1 280.2,503.9 280.7,498.7 281.1,499.5 281.7,506.2 282.1,505.8 282.4,508.3 282.8,507.1 283.2,507.9 283.4,506.9 283.5,507.9 283.7,507.1 284.2,509.8 284.4,507.4 284.7,506.5 284.8,508.0 285.1,506.1 285.5,509.0 286.2,506.6 286.8,509.6 287.5,505.6 288.3,510.1 288.8,507.5 289.4,509.8 289.9,507.0 290.2,508.0 290.6,506.3 290.9,507.4 291.0,506.9 291.1,507.4 291.2,508.8 291.3,508.3 291.6,508.7 291.7,507.6 292.0,508.2 292.3,507.6 293.3,511.6 293.9,508.1 294.3,510.0 294.7,508.2 295.3,511.7 295.8,508.8 296.3,509.8 296.7,506.8 296.9,508.2 297.1,507.8 297.2,508.7 297.3,508.1 297.8,510.6 298.6,506.8 298.8,507.8 298.9,507.0 299.1,507.2 299.2,508.4 299.5,507.1 300.0,510.1 300.4,508.9 300.5,509.6 300.6,508.8 300.7,509.3 301.0,507.8 301.3,508.3 301.4,507.5 301.6,508.1 301.7,507.3 302.2,508.9 302.5,508.6 302.7,509.1 302.8,508.6 302.9,509.1 303.0,508.8 303.2,510.5 303.8,507.3 303.9,507.9 304.2,507.1 304.7,510.3 305.6,507.9 306.0,509.3 306.3,508.6 307.6,498.3 308.5,507.4 308.8,508.2 309.1,507.9 309.4,510.3 309.6,509.9 309.7,510.2 309.9,508.3 310.0,509.0 310.3,508.1 310.7,510.0 311.1,508.7 311.3,510.5 311.9,506.6 312.3,511.0 312.9,507.3 313.5,508.9 314.2,503.1 315.9,510.1 316.4,508.1 317.0,509.7 317.2,509.5 317.4,509.9 317.7,509.4 317.9,509.8 318.1,509.1 318.7,511.5 318.8,510.6 318.9,511.2 319.2,510.8 319.6,511.8 320.3,510.6 320.4,509.4 320.9,512.2 321.4,508.1 321.5,507.6 321.6,508.5 321.9,507.2 322.4,511.9 322.9,507.5 323.5,511.4 323.7,509.6 323.9,509.9 324.0,509.1 324.2,510.1 324.5,509.2 324.7,510.0 325.0,508.3 325.5,510.6 326.0,507.3 326.5,510.9 326.8,508.6 327.4,510.7 328.0,507.5 328.1,509.4 328.4,508.6 328.8,511.0 329.3,509.4 329.4,510.4 330.1,508.7 330.4,510.7 331.0,509.5 331.5,512.0 331.8,510.5 331.9,511.0 332.1,510.5 332.2,510.8 332.5,508.9 332.8,511.1 333.0,511.3 333.4,510.4 333.5,510.8 333.5,510.4 333.8,511.4 334.2,507.7 334.7,510.9 334.8,510.5 335.0,511.3 335.1,510.5 335.6,512.5 336.2,509.8 336.3,510.6 336.7,509.8 337.2,511.3 337.8,510.6 337.9,509.8 338.1,511.3 338.7,508.8 339.0,509.6 339.2,509.0 339.8,513.3 340.1,511.7 340.4,511.5 340.6,512.5 341.0,510.2 341.5,512.1 341.6,511.3 342.0,511.7 342.1,511.0 342.2,511.6 342.5,509.9 342.9,510.7 343.2,509.4 343.4,509.6 343.6,509.2 344.1,511.0 344.3,510.5 344.5,512.3 345.1,510.1 345.4,511.6 345.7,510.2 346.2,510.6 346.6,509.5 347.1,513.2 347.4,511.3 347.8,513.5 347.9,512.5 348.4,512.4 348.8,514.8 349.5,509.8 349.7,511.3 349.8,510.9 350.0,511.4 350.3,510.5 350.8,512.3 351.3,508.5 351.7,510.0 352.1,508.1 352.6,511.9 352.9,508.3 353.4,511.5 353.8,510.6 354.3,512.7 354.6,510.7 355.2,513.0 355.7,509.6 356.2,512.8 356.7,509.8 356.9,511.4 357.2,510.1 357.7,511.6 357.7,510.8 358.2,513.3 358.7,511.0 359.4,513.3 360.3,509.8 360.7,511.6 361.0,510.2 361.4,513.1 361.8,512.2 362.2,513.9" fill="none" stroke="#b8201a" stroke-width="1.8" stroke-linejoin="round"/>
<path d="M71.8,451.4 71.9,452.2 72.1,451.8 72.2,452.2 72.4,451.2 72.8,452.5 73.5,450.7 73.8,452.2 74.0,452.6 74.3,451.8 74.7,453.5 75.1,452.0 75.6,453.2 76.1,451.9 76.3,452.2 76.3,451.7 76.8,452.6 77.4,451.5 77.7,453.3 78.1,453.8 78.2,453.2 78.4,454.2 79.3,451.4 79.7,453.8 80.0,453.4 80.1,454.0 80.4,452.2 80.5,452.5 80.8,452.1 81.3,453.7 81.5,452.0 81.6,452.3 81.8,452.0 82.0,452.9 82.2,452.7 82.3,453.3 82.4,453.0 83.0,455.3 83.4,453.4 83.8,453.3 84.2,454.6 84.9,452.8 85.5,455.0 85.8,454.4 86.3,454.8 86.7,454.4 86.9,453.7 87.0,454.6 87.6,453.5 88.4,455.5 88.7,454.2 89.2,457.3 90.0,454.5 90.2,455.2 90.7,454.4 91.1,456.4 91.5,454.9 91.7,456.1 92.2,454.4 92.3,455.0 92.4,454.7 92.6,455.3 92.8,454.9 92.9,455.9 93.4,454.7 94.3,457.1 94.7,454.6 95.4,457.2 96.0,456.2 96.2,456.7 96.8,455.9 97.2,456.9 97.5,455.8 98.0,457.4 98.5,455.2 99.2,458.3 99.6,456.6 99.9,458.5 100.4,457.5 100.5,458.1 100.6,457.6 100.7,457.9 100.9,457.1 101.3,458.9 101.8,457.0 102.3,459.4 103.3,455.9 103.6,457.4 104.1,456.8 104.4,457.0 104.9,459.8 105.5,458.0 105.9,458.9 106.3,458.9 106.4,458.4 106.6,459.0 107.1,456.4 108.2,459.5 108.7,457.8 109.5,456.9 110.3,451.8 111.6,459.8 112.1,458.2 113.1,460.8 113.6,459.5 113.8,459.9 114.4,459.3 115.0,460.4 115.5,459.6 115.9,461.0 116.4,456.9 116.9,460.0 117.1,459.4 117.5,460.4 118.2,458.6 118.4,459.7 118.6,459.2 118.7,459.8 118.7,459.0 119.4,461.5 120.5,459.5 120.9,462.0 121.4,459.4 121.8,460.9 122.3,459.6 122.5,460.6 123.0,459.9 123.2,461.1 123.8,459.3 124.0,459.9 124.2,459.3 124.4,460.3 125.2,459.0 125.7,461.0 126.2,459.5 126.6,461.6 127.0,459.5 127.5,460.3 127.6,459.8 127.9,460.6 128.4,458.3 128.7,458.8 128.8,458.0 128.9,458.7 129.2,457.8 129.3,458.4 129.5,456.9 130.9,416.9 132.0,450.9 132.9,459.7 133.0,458.5 133.1,458.9 133.4,458.3 133.8,459.8 133.9,459.4 134.2,460.2 134.7,459.1 135.2,459.6 135.9,462.1 136.8,459.3 137.4,461.5 138.0,459.1 138.8,461.0 139.3,459.5 139.7,459.8 139.8,459.0 140.1,459.3 141.0,447.7 141.8,418.9 142.9,452.2 143.6,459.5 144.0,460.4 144.3,459.9 144.4,460.3 144.5,459.5 145.2,461.9 145.6,460.5 145.9,461.2 146.4,459.9 146.5,460.6 146.7,460.0 146.9,460.5 148.1,455.4 148.6,457.9 148.9,458.3 149.0,457.6 149.3,458.4 149.8,457.8 150.2,458.7 151.1,453.1 151.5,441.3 152.6,323.9 154.0,448.7 154.2,453.6 155.0,459.4 155.5,459.6 156.0,461.4 156.1,460.7 156.2,461.5 156.3,460.8 156.7,460.8 157.0,463.1 157.4,461.4 157.8,461.7 158.2,463.4 158.5,461.0 159.0,463.4 159.3,462.0 159.7,463.3 160.4,462.4 160.7,463.5 160.9,462.7 161.3,464.1 161.6,462.7 162.1,463.8 162.4,463.5 162.6,464.4 162.7,463.9 162.9,464.3 163.2,463.7 163.3,464.0 163.6,461.4 164.1,463.5 164.2,462.6 164.7,463.4 164.8,463.1 165.0,464.3 165.8,462.0 166.3,463.8 167.9,459.7 168.3,462.6 169.0,460.4 169.4,462.5 169.6,462.3 169.8,462.9 169.9,462.1 170.0,462.9 170.2,462.0 170.6,464.1 171.3,463.0 171.6,463.7 172.1,461.7 172.6,465.3 173.1,463.6 173.2,464.1 173.3,463.5 173.4,463.9 173.7,463.5 173.8,463.9 174.1,463.1 174.2,463.6 174.4,462.2 174.9,464.7 175.5,462.8 176.0,464.5 176.2,464.0 176.3,464.3 177.0,462.7 177.5,464.7 178.2,462.4 179.4,465.9 180.2,463.5 180.5,465.2 180.9,463.9 181.4,465.8 181.7,464.7 181.9,465.3 182.3,463.9 182.5,464.6 182.6,464.1 183.0,464.6 183.2,465.9 183.5,465.9 184.0,462.4 184.4,464.1 184.7,464.5 184.8,464.1 185.1,464.8 185.5,463.5 185.8,465.5 186.3,464.1 186.5,465.0 187.0,463.8 187.5,465.3 187.7,464.3 188.2,465.7 188.3,464.9 188.5,465.5 189.0,462.8 189.2,463.6 189.3,463.0 189.5,463.7 189.7,463.5 189.8,464.4 190.3,463.3 190.8,465.2 190.9,464.3 191.2,464.4 191.3,463.7 191.3,464.2 191.4,463.4 192.0,464.9 192.2,464.2 193.0,463.7 193.8,465.9 194.3,463.7 194.9,465.3 195.0,464.4 195.3,465.7 195.4,465.4 195.6,465.8 195.8,464.6 195.9,465.1 196.1,464.8 196.3,466.2 196.8,466.6 197.7,462.4 198.8,466.8 199.9,463.4 200.3,465.0 200.4,463.8 200.6,464.2 200.8,463.8 200.9,464.4 201.2,463.7 202.4,465.7 202.9,463.5 203.3,465.4 203.7,466.0 204.0,465.5 204.1,466.0 206.1,460.9 206.6,451.6 207.9,463.0 208.8,466.4 208.9,466.1 209.2,466.5 209.8,464.1 210.4,466.4 210.7,464.5 211.0,464.4 211.2,466.0 211.8,464.4 212.1,465.0 212.2,464.4 212.3,465.1 212.7,464.2 213.1,466.4 213.3,466.0 213.4,466.9 213.6,466.3 213.7,466.8 214.1,464.1 214.6,467.2 215.0,465.0 215.5,465.1 215.6,465.6 215.8,465.2 215.9,465.6 216.1,464.6 216.7,465.9 217.5,463.3 217.8,466.4 218.5,464.4 218.9,465.8 219.2,464.4 219.7,466.9 219.9,465.7 220.4,466.7 220.7,465.2 221.2,465.9 221.4,464.5 221.8,466.1 222.0,465.8 222.2,466.3 222.3,465.7 222.5,466.1 222.7,465.7 223.4,466.7 223.6,465.6 224.1,467.2 224.5,466.0 224.8,466.5 225.0,465.4 225.5,468.4 226.0,466.3 226.5,466.7 227.0,465.4 227.4,467.3 227.8,465.8 228.1,467.0 228.5,465.2 228.7,467.0 229.0,466.7 229.2,465.1 229.7,466.3 229.8,465.9 230.0,467.1 230.6,465.3 231.0,467.4 231.4,466.0 231.9,467.9 232.3,466.5 232.7,466.5 233.3,469.1 233.7,464.6 234.2,466.9 234.8,464.9 235.0,466.1 235.3,465.7 235.4,466.3 235.6,465.9 235.8,466.6 236.3,466.7 236.5,465.5 236.7,466.6 237.2,466.1 237.5,467.2 238.0,464.1 238.2,464.5 238.3,464.1 238.5,465.2 239.4,462.5 239.7,464.2 240.4,463.9 240.7,465.1 241.7,466.4 242.2,464.4 242.7,468.3 243.0,466.9 243.3,466.6 243.6,466.9 243.7,466.0 244.2,467.0 244.4,465.4 244.9,467.7 245.5,466.9 245.6,467.3 245.7,466.8 245.8,467.9 246.3,465.5 246.8,467.6 247.5,466.7 247.8,468.2 248.3,466.5 249.0,468.3 249.3,468.2 249.7,466.6 250.2,467.7 250.8,465.9 251.0,466.2 251.2,465.9 251.4,467.1 252.0,465.8 253.2,456.6 254.8,467.8 255.3,466.3 255.5,467.6 255.6,466.9 255.8,467.2 256.0,467.0 256.1,467.9 256.2,467.6 256.4,468.0 256.6,467.4 257.2,468.6 257.4,467.8 257.8,468.6 258.0,467.5 258.1,468.2 258.7,467.4 259.2,468.7 259.8,466.7 260.1,467.1 260.2,466.7 260.7,468.3 261.1,466.9 261.3,467.4 261.5,467.0 261.6,467.8 261.8,466.9 262.0,467.5 262.2,467.0 262.8,468.3 263.6,466.3 263.9,467.4 264.9,467.0 265.7,468.8 266.2,466.6 266.7,468.6 266.8,468.4 266.9,468.6 267.8,466.6 268.3,468.6 268.4,468.0 268.6,468.6 268.7,467.7 268.9,468.2 269.1,467.8 269.2,468.7 269.7,467.0 270.2,468.9 270.4,467.6 270.9,468.5 271.6,466.4 272.1,469.5 272.2,468.3 272.7,469.4 273.3,467.9 273.7,469.4 274.1,467.8 274.4,469.5 274.5,468.6 274.7,469.5 275.1,467.7 275.5,469.1 275.8,467.9 276.1,468.9 276.4,467.8 277.0,469.1 277.3,468.4 277.4,469.4 278.5,467.2 279.3,470.0 281.0,459.2 281.5,465.0 282.1,467.6 282.5,467.1 282.8,467.5 283.0,469.0 283.6,466.8 284.5,468.9 284.6,467.9 284.8,468.6 285.0,468.5 285.3,470.3 285.9,468.3 286.0,468.8 286.4,468.3 286.7,466.7 287.2,469.6 287.8,467.3 288.3,470.8 288.9,469.3 289.0,470.2 289.3,469.1 289.9,470.0 290.4,467.5 290.9,470.0 291.1,469.4 291.4,470.3 292.2,468.6 292.6,469.5 292.8,468.7 293.3,469.1 293.8,468.2 293.9,469.0 294.0,468.4 294.3,468.7 294.4,470.1 294.9,468.7 295.7,469.8 296.0,469.2 296.2,469.6 296.7,468.6 297.2,469.8 297.8,467.8 298.2,469.7 298.4,468.4 298.6,469.1 298.7,468.3 298.9,469.5 299.4,467.7 300.1,469.8 300.7,468.0 300.9,468.2 301.1,467.8 301.6,468.6 301.8,467.8 301.9,468.4 302.0,467.3 302.6,469.8 302.7,469.0 303.0,469.5 303.3,469.2 303.6,469.5 303.7,468.8 304.2,470.0 304.5,468.8 304.8,469.3 305.1,469.1 305.6,469.4 305.8,467.9 306.1,467.7 306.3,468.5 307.4,459.8 308.8,469.6 309.1,469.2 309.2,469.5 309.3,468.9 309.3,469.3 309.8,467.8 311.0,470.2 311.3,468.5 311.7,469.8 312.2,468.8 312.8,470.3 314.3,463.7 315.8,469.7 316.9,468.3 317.7,470.5 318.3,469.0 318.8,470.6 319.0,470.1 319.4,470.8 320.1,470.4 320.2,470.6 321.3,468.5 321.5,470.0 322.1,469.1 322.4,470.5 322.5,470.3 322.6,470.7 322.7,470.2 323.1,471.1 323.5,469.7 324.0,470.5 324.1,469.6 324.3,470.4 324.6,468.8 325.1,470.6 325.6,468.2 325.7,468.8 325.9,467.9 326.1,468.7 326.2,467.6 326.9,470.8 327.4,468.9 328.0,469.5 328.2,468.9 328.3,469.3 328.5,469.0 329.6,471.9 330.4,470.6 330.7,470.8 331.0,470.2 331.5,470.5 331.7,469.7 332.2,470.4 332.4,469.3 332.8,470.7 333.1,470.5 333.3,471.1 333.7,469.8 334.2,471.2 334.6,470.3 335.1,472.1 335.8,471.5 336.3,469.6 336.7,472.0 337.2,470.2 337.4,471.3 337.6,470.4 338.3,471.0 338.4,469.9 339.1,471.8 340.4,469.8 340.5,470.5 340.8,470.2 341.3,471.2 341.5,470.8 341.7,471.6 342.1,470.3 342.5,471.3 342.8,470.2 343.2,471.3 343.4,470.4 344.1,471.8 344.6,470.2 345.0,470.6 345.4,470.0 345.5,471.2 345.9,470.0 346.0,470.6 346.1,470.1 346.3,470.4 346.7,470.0 347.7,471.1 347.8,470.4 348.3,472.1 349.2,470.0 349.7,471.8 350.2,470.3 350.5,472.6 350.9,471.0 351.2,470.7 351.6,471.3 352.0,469.3 352.7,471.6 352.8,471.0 353.1,471.5 353.2,470.5 353.4,471.4 354.0,470.1 354.5,471.7 354.9,469.7 355.3,471.5 355.7,470.4 356.2,472.0 356.7,470.0 357.2,472.5 357.3,471.6 357.7,471.7 357.7,472.5 358.0,470.7 358.4,472.4 358.9,471.1 359.1,472.6 359.6,472.0 359.8,472.3 360.2,470.5 360.8,471.4 360.9,471.0 361.1,471.9 361.3,470.8 361.7,471.9 361.9,471.5 362.2,471.7" fill="none" stroke="#f2a012" stroke-width="1.8" stroke-linejoin="round"/>
<rect x="62.2" y="312.6" width="310.0" height="235.69999999999993" fill="none" stroke="#111" stroke-width="2"/>
<line x1="62.2" y1="529.5" x2="69.2" y2="529.5" stroke="#111" stroke-width="2"/>
<text x="57.5" y="535.1" text-anchor="end" font-size="16.5" fill="#111">0.2</text>
<line x1="62.2" y1="497.0" x2="69.2" y2="497.0" stroke="#111" stroke-width="2"/>
<text x="57.5" y="502.6" text-anchor="end" font-size="16.5" fill="#111">0.4</text>
<line x1="62.2" y1="464.4" x2="69.2" y2="464.4" stroke="#111" stroke-width="2"/>
<text x="57.5" y="470.0" text-anchor="end" font-size="16.5" fill="#111">0.6</text>
<line x1="62.2" y1="431.9" x2="69.2" y2="431.9" stroke="#111" stroke-width="2"/>
<text x="57.5" y="437.5" text-anchor="end" font-size="16.5" fill="#111">0.8</text>
<line x1="62.2" y1="399.4" x2="69.2" y2="399.4" stroke="#111" stroke-width="2"/>
<text x="57.5" y="405.0" text-anchor="end" font-size="16.5" fill="#111">1.0</text>
<line x1="62.2" y1="366.8" x2="69.2" y2="366.8" stroke="#111" stroke-width="2"/>
<text x="57.5" y="372.4" text-anchor="end" font-size="16.5" fill="#111">1.2</text>
<line x1="62.2" y1="334.3" x2="69.2" y2="334.3" stroke="#111" stroke-width="2"/>
<text x="57.5" y="339.9" text-anchor="end" font-size="16.5" fill="#111">1.4</text>
<line x1="71.8" y1="548.3" x2="71.8" y2="541.3" stroke="#111" stroke-width="2"/>
<text x="71.8" y="568.2" text-anchor="middle" font-size="16" fill="#111">20</text>
<line x1="120.2" y1="548.3" x2="120.2" y2="541.3" stroke="#111" stroke-width="2"/>
<text x="120.2" y="568.2" text-anchor="middle" font-size="16" fill="#111">30</text>
<line x1="168.6" y1="548.3" x2="168.6" y2="541.3" stroke="#111" stroke-width="2"/>
<text x="168.6" y="568.2" text-anchor="middle" font-size="16" fill="#111">40</text>
<line x1="217.0" y1="548.3" x2="217.0" y2="541.3" stroke="#111" stroke-width="2"/>
<text x="217.0" y="568.2" text-anchor="middle" font-size="16" fill="#111">50</text>
<line x1="265.4" y1="548.3" x2="265.4" y2="541.3" stroke="#111" stroke-width="2"/>
<text x="265.4" y="568.2" text-anchor="middle" font-size="16" fill="#111">60</text>
<line x1="313.8" y1="548.3" x2="313.8" y2="541.3" stroke="#111" stroke-width="2"/>
<text x="313.8" y="568.2" text-anchor="middle" font-size="16" fill="#111">70</text>
<line x1="362.2" y1="548.3" x2="362.2" y2="541.3" stroke="#111" stroke-width="2"/>
<text x="362.2" y="568.2" text-anchor="middle" font-size="16" fill="#111">80</text>
<text transform="translate(20.0,430.0) rotate(-90) scale(1.0,1)" text-anchor="middle" font-size="18" fill="#111">Intensity</text>
<text x="220.0" y="589.0" text-anchor="middle" font-size="17.5" fill="#111">2theta</text>
<text x="5.5" y="334.0" text-anchor="start" font-size="32" fill="#111">c.</text>
<line x1="284.0" y1="328.8" x2="296.5" y2="328.8" stroke="#f2a012" stroke-width="2.4"/>
<text x="303.2" y="333.1" text-anchor="start" font-size="14.5" fill="#111">0.2 torr</text>
<line x1="284.0" y1="345.6" x2="296.5" y2="345.6" stroke="#b8201a" stroke-width="2.4"/>
<text x="303.2" y="349.9" text-anchor="start" font-size="14.5" fill="#111">0.4 torr</text>
<line x1="284.0" y1="362.9" x2="296.5" y2="362.9" stroke="#111111" stroke-width="2.4"/>
<text x="303.2" y="367.2" text-anchor="start" font-size="14.5" fill="#111">0.8 torr</text>
<rect x="121.8" y="402.6" width="11.5" height="10.5" fill="#000"/>
<rect x="135.8" y="402.6" width="11.5" height="10.5" fill="#000"/>
<rect x="146.9" y="316.9" width="11.5" height="10.5" fill="#000"/>
<rect x="201.1" y="433.9" width="11.5" height="10.5" fill="#000"/>
<rect x="244.8" y="438.1" width="11.5" height="10.5" fill="#000"/>
<rect x="272.4" y="440.6" width="11.5" height="10.5" fill="#000"/>
<rect x="295.9" y="443.1" width="11.5" height="10.5" fill="#000"/>
<rect x="308.4" y="449.6" width="11.5" height="10.5" fill="#000"/>
<ellipse cx="110.0" cy="442.4" rx="5.6" ry="5.3" fill="#c80404"/>
<ellipse cx="146.5" cy="445.9" rx="5.6" ry="5.3" fill="#c80404"/>
<ellipse cx="168.1" cy="451.9" rx="5.6" ry="5.3" fill="#c80404"/>
<ellipse cx="238.7" cy="454.3" rx="5.6" ry="5.3" fill="#c80404"/>
<rect x="457.6" y="313.6" width="290.9" height="235.69999999999993" fill="none" stroke="#111" stroke-width="2"/>
<line x1="457.6" y1="532.5" x2="464.6" y2="532.5" stroke="#111" stroke-width="2"/>
<text x="453.0" y="537.3" text-anchor="end" font-size="14" fill="#111">4</text>
<line x1="457.6" y1="482.0" x2="464.6" y2="482.0" stroke="#111" stroke-width="2"/>
<text x="453.0" y="486.8" text-anchor="end" font-size="14" fill="#111">6</text>
<line x1="457.6" y1="431.5" x2="464.6" y2="431.5" stroke="#111" stroke-width="2"/>
<text x="453.0" y="436.3" text-anchor="end" font-size="14" fill="#111">8</text>
<line x1="457.6" y1="381.1" x2="464.6" y2="381.1" stroke="#111" stroke-width="2"/>
<text x="453.0" y="385.9" text-anchor="end" font-size="14" fill="#111">10</text>
<line x1="457.6" y1="330.6" x2="464.6" y2="330.6" stroke="#111" stroke-width="2"/>
<text x="453.0" y="335.4" text-anchor="end" font-size="14" fill="#111">12</text>
<line x1="467.6" y1="549.3" x2="467.6" y2="543.3" stroke="#111" stroke-width="2"/>
<text x="467.6" y="566.7" text-anchor="middle" font-size="14" fill="#111">0.0</text>
<line x1="521.9" y1="549.3" x2="521.9" y2="543.3" stroke="#111" stroke-width="2"/>
<text x="521.9" y="566.7" text-anchor="middle" font-size="14" fill="#111">0.2</text>
<line x1="576.3" y1="549.3" x2="576.3" y2="543.3" stroke="#111" stroke-width="2"/>
<text x="576.3" y="566.7" text-anchor="middle" font-size="14" fill="#111">0.4</text>
<line x1="630.6" y1="549.3" x2="630.6" y2="543.3" stroke="#111" stroke-width="2"/>
<text x="630.6" y="566.7" text-anchor="middle" font-size="14" fill="#111">0.6</text>
<line x1="685.0" y1="549.3" x2="685.0" y2="543.3" stroke="#111" stroke-width="2"/>
<text x="685.0" y="566.7" text-anchor="middle" font-size="14" fill="#111">0.8</text>
<line x1="739.3" y1="549.3" x2="739.3" y2="543.3" stroke="#111" stroke-width="2"/>
<text x="739.3" y="566.7" text-anchor="middle" font-size="14" fill="#111">1.0</text>
<text transform="translate(430.0,432.0) rotate(-90) scale(1.0,1)" text-anchor="middle" font-size="16.2" fill="#111">H Content (at%)</text>
<text x="602.5" y="590.5" text-anchor="middle" font-size="16" fill="#111">Partial Pressure H2 (torr)</text>
<text transform="translate(397.0,333.0) scale(0.96,1)" text-anchor="start" font-size="33" fill="#111">d.</text>
<polyline points="532.3,480.5 587.4,421.2 676.5,455.3" fill="none" stroke="#111" stroke-width="1.3"/>
<line x1="532.3" y1="465.1" x2="532.3" y2="495.9" stroke="#555" stroke-width="1"/>
<line x1="528.8" y1="465.1" x2="535.8" y2="465.1" stroke="#555" stroke-width="1"/>
<line x1="528.8" y1="495.9" x2="535.8" y2="495.9" stroke="#555" stroke-width="1"/>
<circle cx="532.3" cy="480.5" r="3.6" fill="#000"/>
<line x1="587.4" y1="412.9" x2="587.4" y2="429.5" stroke="#555" stroke-width="1"/>
<line x1="583.9" y1="412.9" x2="590.9" y2="412.9" stroke="#555" stroke-width="1"/>
<line x1="583.9" y1="429.5" x2="590.9" y2="429.5" stroke="#555" stroke-width="1"/>
<circle cx="587.4" cy="421.2" r="3.6" fill="#000"/>
<line x1="676.5" y1="443.4" x2="676.5" y2="467.1" stroke="#555" stroke-width="1"/>
<line x1="673.0" y1="443.4" x2="680.0" y2="443.4" stroke="#555" stroke-width="1"/>
<line x1="673.0" y1="467.1" x2="680.0" y2="467.1" stroke="#555" stroke-width="1"/>
<circle cx="676.5" cy="455.3" r="3.6" fill="#000"/>
<path d="M258.2,781.2 259.3,782.2 259.6,781.7 259.7,781.9 260.6,781.4 261.3,781.4 262.1,782.7 262.6,782.3 262.8,782.8 263.2,782.2 264.4,783.6 265.4,782.2 266.0,783.1 266.2,782.8 266.5,783.2 266.7,782.8 266.8,783.1 267.0,782.3 267.4,782.9 268.0,782.7 268.4,783.0 268.5,782.6 269.1,783.5 269.2,783.1 270.1,783.7 270.2,784.2 270.4,783.7 270.9,784.5 271.9,782.8 273.2,784.2 274.4,783.0 275.6,784.8 276.7,783.1 277.5,784.7 278.5,784.1 278.6,784.8 279.0,785.2 279.1,784.8 279.9,785.6 280.8,784.5 281.2,785.0 281.6,784.2 282.7,784.6 283.2,783.8 284.0,784.7 284.8,783.7 286.4,785.5 287.7,784.6 288.3,785.9 289.5,784.8 290.5,785.7 290.7,785.2 291.4,785.5 291.6,785.2 292.2,786.1 292.4,785.8 292.7,786.1 294.2,784.9 294.6,783.2 295.5,767.8 296.5,782.4 297.3,786.0 298.3,785.9 298.6,786.9 299.0,786.5 299.4,787.1 299.8,786.3 300.0,786.6 300.1,786.2 300.6,786.4 301.1,786.1 302.2,786.3 303.2,785.4 304.5,786.6 305.3,785.8 305.5,786.1 305.9,785.3 306.1,785.7 306.4,785.4 307.1,786.4 307.9,785.6 308.8,786.3 309.2,785.5 310.7,786.2 311.0,785.7 311.2,786.0 311.5,785.1 312.5,786.1 313.4,784.1 314.0,784.2 314.5,781.4 315.5,740.5 316.4,776.7 317.1,784.5 317.6,785.3 318.6,785.8 319.0,785.3 319.5,785.7 319.6,785.4 319.9,786.0 321.1,786.6 321.5,785.6 322.1,785.5 322.7,786.2 324.1,785.1 324.9,782.8 326.0,742.7 327.3,783.3 327.8,785.0 328.4,784.3 328.8,784.3 330.4,786.4 330.5,786.1 331.3,780.7 332.1,763.9 333.0,781.0 333.3,783.3 334.2,783.4 335.0,779.5 335.6,762.3 336.5,630.9 337.6,771.1 338.2,780.7 340.1,786.3 341.3,785.7 342.0,786.1 342.3,787.0 343.4,786.2 343.9,787.1 344.6,786.0 344.9,786.5 345.1,786.0 345.6,787.1 346.5,786.2 346.7,786.8 347.4,786.8 347.8,785.9 348.6,786.6 349.2,785.7 349.8,786.2 351.3,782.5 351.6,783.0 351.8,782.7 353.4,786.3 353.7,786.5 353.9,786.1 354.3,786.5 354.6,786.1 354.9,786.5 355.4,785.7 355.5,786.0 355.8,785.8 356.7,787.7 357.8,787.6 358.7,786.2 359.1,786.7 359.9,786.7 360.5,787.6 361.0,787.1 361.3,787.8 361.6,787.3 361.9,787.9 363.1,785.1 364.3,785.7 364.8,785.0 365.7,786.1 366.0,785.6 366.7,785.5 366.9,785.8 367.7,785.1 368.2,785.5 368.4,785.2 369.4,786.8 370.6,785.3 371.2,786.6 371.4,786.4 372.5,787.2 373.0,786.7 373.4,787.2 373.7,786.8 375.1,787.7 375.4,787.0 375.5,787.3 376.0,786.9 376.4,787.5 376.7,786.9 377.7,787.8 378.3,786.9 379.1,788.7 379.4,788.4 379.7,788.8 380.9,787.2 381.6,788.4 382.4,788.5 383.2,787.3 383.8,788.2 384.0,787.9 385.0,788.3 385.2,788.1 385.6,788.4 386.0,788.1 386.9,788.9 388.2,785.1 389.1,774.3 389.9,785.6 390.6,788.6 391.7,787.4 392.7,788.8 393.1,788.4 393.6,788.9 393.9,788.5 394.0,788.9 394.6,788.3 395.0,789.0 395.3,788.4 395.8,788.8 395.9,788.3 396.6,789.2 397.0,788.6 397.3,789.1 398.9,787.5 399.7,788.8 400.6,789.3 401.8,788.3 402.4,788.3 402.6,787.9 403.5,789.0 404.3,789.2 404.7,788.5 404.9,789.1 405.2,788.5 405.7,789.2 406.4,788.8 406.6,789.3 407.0,789.0 407.1,789.4 407.5,789.3 407.9,789.7 408.2,789.2 408.5,789.8 408.9,789.2 409.3,789.7 409.5,789.2 409.6,789.4 410.2,788.9 410.5,789.3 410.7,788.9 410.9,789.5 411.4,789.5 411.8,790.0 411.9,789.3 412.1,789.5 412.8,789.0 413.0,789.3 413.4,788.5 413.9,789.5 414.2,789.1 414.5,789.5 415.1,788.9 416.3,789.9 417.2,789.4 417.8,790.5 417.9,790.2 418.2,790.4 419.1,788.7 419.9,788.4 420.1,788.9 420.9,783.8 421.7,788.4 422.6,790.1 423.2,790.1 424.0,789.0 424.6,789.7 425.2,789.8 425.6,789.2 426.5,790.0 427.5,789.3 428.8,790.4 429.3,790.1 429.7,790.3 430.7,789.3 431.1,789.6 431.4,789.1 431.7,789.7 432.9,789.2 434.1,773.9 435.3,788.9 435.9,789.2 436.3,788.8 437.2,789.7 437.7,788.9 438.7,790.6 438.9,790.1 439.0,790.4 439.4,790.2 439.8,789.5 439.9,789.9 440.3,789.6 440.8,790.1 441.4,789.4 442.3,790.7 443.2,789.1 444.7,790.8 445.0,790.8 445.7,789.9 446.6,790.5 446.7,791.2 448.0,790.3 448.5,790.8 449.2,790.1 450.0,791.2 451.1,790.6 452.6,791.7 453.2,790.6 453.9,790.6 454.6,791.5 455.6,790.2 456.0,790.7 456.6,790.2 457.6,791.1 457.9,790.9 458.2,791.8 459.1,790.4 459.5,790.3 459.9,789.2 460.8,778.8 461.6,788.3 462.4,791.4 462.6,790.7 463.0,791.2 463.3,790.3 464.2,791.5 464.9,790.7 465.7,791.4 466.1,790.9 466.3,791.3 467.2,790.6 468.1,791.6 468.6,790.8 468.8,791.7 469.2,791.1 469.5,791.2 469.8,790.4 470.8,791.3 470.9,790.8 471.4,790.9 471.9,791.6 473.0,790.6 473.4,791.4 473.8,790.9 473.9,791.4 474.2,791.0 474.3,791.3 474.5,790.8 474.8,791.3 475.0,790.9 475.3,791.4 475.9,791.0 476.6,791.8 476.8,791.3 477.3,791.8 478.3,790.5 479.2,790.6 479.8,790.1 480.2,789.1 480.5,789.7 481.5,789.8 482.5,792.1 483.4,790.9 484.7,791.5 485.5,790.5 486.5,779.0 487.5,789.9 488.9,792.2 489.1,791.8 489.5,792.1 489.8,791.1 490.1,791.1 490.4,791.8 490.7,791.5 491.3,791.9 492.1,790.9 493.2,783.1 494.2,791.5 494.5,791.9 494.8,791.6 495.0,792.3 495.4,791.8 496.2,792.8 496.9,791.8 497.4,791.6 497.8,792.1 498.1,791.4 498.4,791.7 498.8,790.9 500.0,791.5 500.2,792.4 501.2,791.4 502.2,792.3 503.1,791.2 504.2,791.7 504.5,791.0 504.9,791.5 505.3,790.8 506.7,792.5 507.0,791.9 507.3,792.4 507.6,792.1 508.1,792.4 508.4,791.9 508.9,792.2 509.2,792.9 509.8,792.7 510.0,793.1 510.1,792.4 510.5,792.7 510.7,792.2 511.2,792.5 512.0,792.0 512.2,792.4 513.0,792.4 513.7,791.7 514.2,792.5 515.5,792.4 516.2,791.9 516.7,792.7 517.6,792.2 518.6,793.1 519.1,792.2 519.7,793.3 520.4,792.7 520.7,791.7 520.9,792.3 522.0,792.2 522.8,793.3 524.4,792.4 525.3,792.7 525.5,793.3 525.8,792.8 526.4,793.0 526.7,792.4 526.9,793.1 527.5,793.3 529.5,790.9 530.3,792.2 530.7,792.3 530.8,791.8 530.9,792.3 531.5,792.0 531.8,793.0 532.1,792.5 532.7,793.4 532.8,792.8 533.0,793.5 533.4,793.1 534.3,793.8 534.6,793.2 534.8,793.5 535.7,793.1 535.8,792.5 537.1,793.1 537.3,792.6 537.7,793.0 538.3,792.3 538.8,793.1 539.0,792.7 539.3,793.1 539.6,792.3" fill="none" stroke="#b8201a" stroke-width="2.0" stroke-linejoin="round"/>
<path d="M258.2,819.8 259.2,821.6 259.7,821.5 260.2,820.7 260.5,821.0 261.8,820.1 262.8,821.2 264.1,820.5 264.5,821.2 264.6,820.9 265.4,821.6 266.5,821.2 267.3,821.9 268.4,820.6 269.0,821.3 270.0,820.8 270.2,821.3 271.7,821.3 272.4,822.1 273.4,821.0 273.9,821.1 274.1,821.8 274.3,821.6 274.4,821.9 275.2,821.7 275.4,822.0 276.5,821.6 277.3,822.2 277.6,821.8 278.2,821.8 278.5,821.1 278.8,821.5 279.2,821.2 279.8,821.9 280.6,821.6 281.0,821.0 281.2,821.5 281.7,821.5 281.9,822.1 283.0,821.5 284.9,822.6 285.1,822.1 285.7,822.4 286.0,822.0 286.1,822.4 286.6,822.0 287.3,822.5 287.9,822.4 289.0,821.5 289.5,822.0 290.1,821.6 291.1,822.5 291.7,821.4 291.9,821.7 293.2,821.8 295.8,818.7 296.9,821.1 298.1,822.3 298.9,821.9 299.6,822.2 300.0,821.9 300.6,822.1 301.1,822.9 302.3,822.8 302.8,823.2 303.6,822.7 304.6,823.0 305.7,822.1 306.7,823.6 307.7,822.8 308.7,823.7 309.4,822.6 310.1,823.2 311.1,822.5 311.5,823.0 311.9,822.7 312.1,823.0 312.5,822.2 312.9,822.4 314.0,821.3 314.4,819.1 315.5,781.6 316.3,812.4 316.8,820.6 318.4,823.0 319.5,822.7 320.6,823.5 321.0,823.0 321.8,823.4 322.9,823.1 324.0,822.1 324.3,822.2 324.8,820.4 325.2,814.9 326.1,777.5 326.9,812.8 327.4,821.2 328.0,822.0 328.5,821.6 330.1,822.8 330.6,822.4 331.7,819.7 332.0,819.5 332.9,820.6 333.2,820.6 334.4,819.3 335.2,812.6 335.6,798.0 336.5,665.0 337.6,804.2 338.3,818.9 338.9,820.9 340.2,823.0 341.2,822.9 341.6,823.6 342.7,823.0 343.1,823.9 343.6,823.5 344.8,824.4 345.8,823.9 346.8,824.7 347.9,823.7 348.8,824.6 349.8,824.3 351.1,824.8 351.9,823.5 352.3,824.1 352.6,823.7 353.4,825.0 354.4,824.6 354.9,824.9 355.8,824.2 356.8,825.1 356.9,824.7 358.1,824.7 358.2,824.2 359.2,825.3 360.3,824.2 361.1,825.0 362.2,824.3 362.5,824.7 364.5,824.5 365.1,825.0 365.9,824.5 366.8,825.2 367.5,824.2 367.9,824.7 368.2,824.4 368.7,825.0 369.0,824.6 369.5,824.9 370.5,824.4 371.7,825.3 372.2,825.0 372.5,825.4 373.1,824.9 373.6,825.3 373.9,824.8 374.1,825.0 374.9,824.3 376.5,825.5 377.5,824.4 378.6,824.4 379.0,824.8 379.9,824.2 380.9,825.7 381.8,825.0 382.5,825.9 383.5,824.6 384.7,824.2 385.0,824.9 385.7,825.2 386.0,824.9 386.8,825.0 387.6,824.4 388.0,823.4 389.1,805.9 390.0,821.5 390.4,823.5 391.1,824.9 391.8,825.1 392.8,824.6 393.2,825.2 393.6,825.1 393.8,825.6 394.4,825.3 394.8,825.8 395.2,825.0 396.2,824.9 397.4,826.2 398.1,825.3 399.2,825.5 399.7,824.9 401.3,825.4 401.5,825.0 402.1,825.1 402.3,824.8 402.7,825.3 403.1,824.9 403.3,825.3 403.9,825.4 404.5,825.0 405.3,825.2 405.7,824.6 408.0,825.9 408.3,825.0 409.3,825.8 411.2,825.1 411.4,825.6 411.7,825.1 412.2,825.6 412.8,825.2 413.3,825.3 413.8,826.0 414.2,825.7 414.5,826.0 415.5,825.5 415.7,825.9 416.1,825.8 416.7,824.9 417.5,825.1 417.8,825.7 418.1,825.3 418.4,825.6 418.8,824.9 419.2,825.3 421.1,823.9 422.1,824.9 422.7,824.5 423.2,825.4 424.6,826.1 425.1,825.6 425.9,825.8 426.6,825.2 427.5,826.2 427.8,825.7 428.3,826.3 429.3,825.6 429.9,826.0 431.2,825.5 431.6,825.8 432.8,824.3 433.1,822.8 434.1,806.8 435.2,824.7 435.6,825.6 436.3,825.2 436.9,825.7 437.5,825.6 437.6,826.0 438.0,825.6 439.0,826.5 440.6,825.9 441.2,826.4 441.8,826.0 441.9,826.4 442.6,826.4 443.0,826.0 443.3,826.5 444.3,826.0 444.8,826.4 445.8,825.7 446.3,826.2 446.5,825.9 446.7,826.5 447.3,825.8 447.6,826.2 447.8,825.4 448.3,825.9 448.6,825.5 449.0,826.2 449.4,826.0 449.6,826.5 450.3,826.9 451.0,826.2 452.0,826.7 452.5,826.1 453.4,826.4 453.7,826.1 454.5,826.6 455.5,826.2 456.1,827.0 456.5,826.3 457.2,826.2 457.9,826.6 458.9,825.7 459.4,825.8 460.0,823.8 460.8,808.2 461.6,822.0 462.3,826.7 463.2,826.3 463.9,826.8 464.7,826.2 465.5,827.1 465.8,826.4 466.2,826.6 466.5,826.3 466.8,826.9 467.5,826.7 468.3,827.3 469.2,826.8 470.2,827.8 471.5,826.6 473.6,827.7 474.6,826.5 475.6,827.4 476.4,827.1 476.6,827.6 477.7,826.8 477.9,827.1 478.1,826.6 479.1,826.7 480.7,824.4 481.7,826.3 482.1,826.2 483.5,827.9 485.1,826.3 485.6,824.8 486.6,811.0 487.4,824.6 487.9,827.1 488.6,826.8 489.0,827.4 489.9,826.5 491.4,827.6 492.1,826.8 493.2,817.0 494.2,826.5 496.0,827.7 496.5,827.2 497.4,828.1 498.4,827.5 499.2,828.4 500.2,828.2 500.7,828.6 500.9,827.9 501.1,828.2 501.7,827.6 502.0,827.9 502.5,827.1 503.4,827.7 503.8,827.5 504.3,826.3 506.5,827.2 506.8,826.9 508.1,828.6 508.4,828.3 508.6,829.1 509.4,829.0 510.1,828.0 510.8,828.7 511.8,828.5 511.9,828.8 513.7,827.7 514.7,829.4 514.9,828.8 515.8,828.3 516.2,829.1 517.2,828.3 519.0,828.9 520.0,828.2 520.7,828.0 520.9,828.3 522.0,827.8 522.8,828.7 523.4,828.1 523.7,828.9 523.9,828.5 524.4,829.5 524.7,828.7 525.0,829.2 525.7,829.1 526.1,828.7 526.4,829.1 527.1,829.2 529.0,827.2 529.1,827.6 530.2,827.6 531.3,828.6 532.3,828.7 532.9,829.9 533.8,828.8 534.5,828.7 535.0,828.7 536.0,830.0 537.5,828.7 538.3,829.6 539.6,829.9" fill="none" stroke="#111111" stroke-width="1.8" stroke-linejoin="round"/>
<rect x="244.3" y="616.8" width="308.7" height="228.9000000000001" fill="none" stroke="#111" stroke-width="2"/>
<line x1="244.3" y1="833.0" x2="251.3" y2="833.0" stroke="#111" stroke-width="2"/>
<text x="240.0" y="838.6" text-anchor="end" font-size="16" fill="#111">0.0</text>
<line x1="244.3" y1="799.2" x2="251.3" y2="799.2" stroke="#111" stroke-width="2"/>
<text x="240.0" y="804.8" text-anchor="end" font-size="16" fill="#111">0.2</text>
<line x1="244.3" y1="765.3" x2="251.3" y2="765.3" stroke="#111" stroke-width="2"/>
<text x="240.0" y="770.9" text-anchor="end" font-size="16" fill="#111">0.4</text>
<line x1="244.3" y1="731.5" x2="251.3" y2="731.5" stroke="#111" stroke-width="2"/>
<text x="240.0" y="737.1" text-anchor="end" font-size="16" fill="#111">0.6</text>
<line x1="244.3" y1="697.6" x2="251.3" y2="697.6" stroke="#111" stroke-width="2"/>
<text x="240.0" y="703.2" text-anchor="end" font-size="16" fill="#111">0.8</text>
<line x1="244.3" y1="663.8" x2="251.3" y2="663.8" stroke="#111" stroke-width="2"/>
<text x="240.0" y="669.4" text-anchor="end" font-size="16" fill="#111">1.0</text>
<line x1="244.3" y1="630.0" x2="251.3" y2="630.0" stroke="#111" stroke-width="2"/>
<text x="240.0" y="635.6" text-anchor="end" font-size="16" fill="#111">1.2</text>
<line x1="258.2" y1="845.7" x2="258.2" y2="838.7" stroke="#111" stroke-width="2"/>
<text x="258.2" y="865.2" text-anchor="middle" font-size="16" fill="#111">20</text>
<line x1="305.1" y1="845.7" x2="305.1" y2="838.7" stroke="#111" stroke-width="2"/>
<text x="305.1" y="865.2" text-anchor="middle" font-size="16" fill="#111">30</text>
<line x1="352.0" y1="845.7" x2="352.0" y2="838.7" stroke="#111" stroke-width="2"/>
<text x="352.0" y="865.2" text-anchor="middle" font-size="16" fill="#111">40</text>
<line x1="398.9" y1="845.7" x2="398.9" y2="838.7" stroke="#111" stroke-width="2"/>
<text x="398.9" y="865.2" text-anchor="middle" font-size="16" fill="#111">50</text>
<line x1="445.8" y1="845.7" x2="445.8" y2="838.7" stroke="#111" stroke-width="2"/>
<text x="445.8" y="865.2" text-anchor="middle" font-size="16" fill="#111">60</text>
<line x1="492.7" y1="845.7" x2="492.7" y2="838.7" stroke="#111" stroke-width="2"/>
<text x="492.7" y="865.2" text-anchor="middle" font-size="16" fill="#111">70</text>
<line x1="539.6" y1="845.7" x2="539.6" y2="838.7" stroke="#111" stroke-width="2"/>
<text x="539.6" y="865.2" text-anchor="middle" font-size="16" fill="#111">80</text>
<text transform="translate(200.5,731.0) rotate(-90) scale(1.0,1)" text-anchor="middle" font-size="17.4" fill="#111">Intensity</text>
<text x="398.5" y="888.5" text-anchor="middle" font-size="17.5" fill="#111">2theta</text>
<text x="185.2" y="633.0" text-anchor="start" font-size="32" fill="#111">e.</text>
<line x1="489.0" y1="634.2" x2="501.8" y2="634.2" stroke="#b8201a" stroke-width="2.4"/>
<text x="508.7" y="639.0" text-anchor="start" font-size="13.5" fill="#111">80 A</text>
<line x1="489.0" y1="650.4" x2="501.8" y2="650.4" stroke="#111111" stroke-width="2.4"/>
<text x="508.7" y="655.2" text-anchor="start" font-size="13.5" fill="#111">90 A</text>
<rect x="308.1" y="724.5" width="11.5" height="10.5" fill="#000"/>
<rect x="320.4" y="730.5" width="11.5" height="10.5" fill="#000"/>
<rect x="327.4" y="620.5" width="11.5" height="10.5" fill="#000"/>
<rect x="383.1" y="758.0" width="11.5" height="10.5" fill="#000"/>
<rect x="429.9" y="760.4" width="11.5" height="10.5" fill="#000"/>
<rect x="456.1" y="765.6" width="11.5" height="10.5" fill="#000"/>
<rect x="476.6" y="765.6" width="11.5" height="10.5" fill="#000"/>
<rect x="489.2" y="770.6" width="11.5" height="10.5" fill="#000"/>
<ellipse cx="295.0" cy="759.5" rx="5.6" ry="5.3" fill="#c80404"/>
<ellipse cx="330.9" cy="756.8" rx="5.6" ry="5.3" fill="#c80404"/>
<ellipse cx="351.2" cy="775.7" rx="5.6" ry="5.3" fill="#c80404"/>
<ellipse cx="420.6" cy="774.0" rx="5.6" ry="5.3" fill="#c80404"/>
</svg></body></html>
